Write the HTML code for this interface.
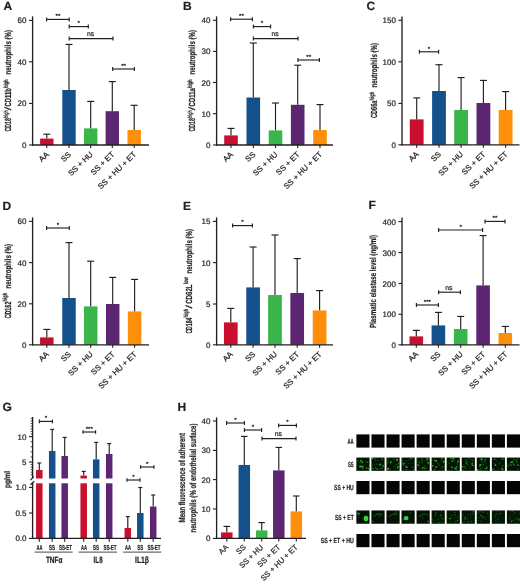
<!DOCTYPE html>
<html lang="en"><head><meta charset="utf-8"><title>Figure</title>
<style>
html,body{margin:0;padding:0;background:#fff;}
body{width:520px;height:585px;overflow:hidden;}
svg{display:block;}
svg text{font-family:"Liberation Sans",sans-serif;text-rendering:geometricPrecision;stroke:#231F20;stroke-width:0.22px;}
</style></head><body>
<svg width="520" height="585" viewBox="0 0 520 585">
<rect width="520" height="585" fill="#ffffff"/>
<line x1="46.8" y1="134.2" x2="46.8" y2="138.6" stroke="#231F20" stroke-width="1.15" stroke-linecap="butt"/>
<line x1="43.3" y1="134.2" x2="50.3" y2="134.2" stroke="#231F20" stroke-width="1.15" stroke-linecap="butt"/>
<rect x="40.1" y="138.6" width="13.4" height="6.4" fill="#C8102E"/>
<line x1="69" y1="44.4" x2="69" y2="90" stroke="#231F20" stroke-width="1.15" stroke-linecap="butt"/>
<line x1="65.5" y1="44.4" x2="72.5" y2="44.4" stroke="#231F20" stroke-width="1.15" stroke-linecap="butt"/>
<rect x="62.3" y="90" width="13.4" height="55" fill="#14508A"/>
<line x1="90.7" y1="101.4" x2="90.7" y2="128.4" stroke="#231F20" stroke-width="1.15" stroke-linecap="butt"/>
<line x1="87.2" y1="101.4" x2="94.2" y2="101.4" stroke="#231F20" stroke-width="1.15" stroke-linecap="butt"/>
<rect x="84" y="128.4" width="13.4" height="16.6" fill="#3AB54A"/>
<line x1="112.3" y1="81.6" x2="112.3" y2="111.2" stroke="#231F20" stroke-width="1.15" stroke-linecap="butt"/>
<line x1="108.8" y1="81.6" x2="115.8" y2="81.6" stroke="#231F20" stroke-width="1.15" stroke-linecap="butt"/>
<rect x="105.6" y="111.2" width="13.4" height="33.8" fill="#5C2672"/>
<line x1="134.2" y1="105.3" x2="134.2" y2="130" stroke="#231F20" stroke-width="1.15" stroke-linecap="butt"/>
<line x1="130.7" y1="105.3" x2="137.7" y2="105.3" stroke="#231F20" stroke-width="1.15" stroke-linecap="butt"/>
<rect x="127.5" y="130" width="13.4" height="15" fill="#FF8F0A"/>
<line x1="32.6" y1="16.4" x2="32.6" y2="145.6" stroke="#231F20" stroke-width="1.35" stroke-linecap="butt"/>
<line x1="32" y1="145" x2="149" y2="145" stroke="#231F20" stroke-width="1.35" stroke-linecap="butt"/>
<line x1="29" y1="145" x2="32.6" y2="145" stroke="#231F20" stroke-width="1.1" stroke-linecap="butt"/>
<text x="26.5" y="148" font-size="8" text-anchor="end" fill="#231F20" >0</text>
<line x1="29" y1="103.4" x2="32.6" y2="103.4" stroke="#231F20" stroke-width="1.1" stroke-linecap="butt"/>
<text x="26.5" y="106.4" font-size="8" text-anchor="end" fill="#231F20" >20</text>
<line x1="29" y1="61.8" x2="32.6" y2="61.8" stroke="#231F20" stroke-width="1.1" stroke-linecap="butt"/>
<text x="26.5" y="64.8" font-size="8" text-anchor="end" fill="#231F20" >40</text>
<line x1="29" y1="20.4" x2="32.6" y2="20.4" stroke="#231F20" stroke-width="1.1" stroke-linecap="butt"/>
<text x="26.5" y="23.4" font-size="8" text-anchor="end" fill="#231F20" >60</text>
<line x1="46.8" y1="145" x2="46.8" y2="148" stroke="#231F20" stroke-width="1.1" stroke-linecap="butt"/>
<text x="49.4" y="155" font-size="7.85" text-anchor="end" transform="rotate(-44 49.4 155)" fill="#231F20" >AA</text>
<line x1="69" y1="145" x2="69" y2="148" stroke="#231F20" stroke-width="1.1" stroke-linecap="butt"/>
<text x="71.6" y="155" font-size="7.85" text-anchor="end" transform="rotate(-44 71.6 155)" fill="#231F20" >SS</text>
<line x1="90.7" y1="145" x2="90.7" y2="148" stroke="#231F20" stroke-width="1.1" stroke-linecap="butt"/>
<text x="93.3" y="155" font-size="7.85" text-anchor="end" transform="rotate(-44 93.3 155)" fill="#231F20" >SS + HU</text>
<line x1="112.3" y1="145" x2="112.3" y2="148" stroke="#231F20" stroke-width="1.1" stroke-linecap="butt"/>
<text x="114.9" y="155" font-size="7.85" text-anchor="end" transform="rotate(-44 114.9 155)" fill="#231F20" >SS + ET</text>
<line x1="134.2" y1="145" x2="134.2" y2="148" stroke="#231F20" stroke-width="1.1" stroke-linecap="butt"/>
<text x="136.8" y="155" font-size="7.85" text-anchor="end" transform="rotate(-44 136.8 155)" fill="#231F20" >SS + HU + ET</text>
<line x1="46.6" y1="19.4" x2="69.2" y2="19.4" stroke="#231F20" stroke-width="1.15" stroke-linecap="butt"/>
<line x1="46.6" y1="17.4" x2="46.6" y2="21.4" stroke="#231F20" stroke-width="1.15" stroke-linecap="butt"/>
<line x1="69.2" y1="17.4" x2="69.2" y2="21.4" stroke="#231F20" stroke-width="1.15" stroke-linecap="butt"/>
<text x="57.9" y="18.2" font-size="6.2" text-anchor="middle" fill="#231F20" >**</text>
<line x1="69.2" y1="26.6" x2="88.3" y2="26.6" stroke="#231F20" stroke-width="1.15" stroke-linecap="butt"/>
<line x1="69.2" y1="24.6" x2="69.2" y2="28.6" stroke="#231F20" stroke-width="1.15" stroke-linecap="butt"/>
<line x1="88.3" y1="24.6" x2="88.3" y2="28.6" stroke="#231F20" stroke-width="1.15" stroke-linecap="butt"/>
<text x="78.75" y="25.4" font-size="6.2" text-anchor="middle" fill="#231F20" >*</text>
<line x1="69.2" y1="38.6" x2="113" y2="38.6" stroke="#231F20" stroke-width="1.15" stroke-linecap="butt"/>
<line x1="69.2" y1="36.6" x2="69.2" y2="40.6" stroke="#231F20" stroke-width="1.15" stroke-linecap="butt"/>
<line x1="113" y1="36.6" x2="113" y2="40.6" stroke="#231F20" stroke-width="1.15" stroke-linecap="butt"/>
<text x="90.5" y="36.2" font-size="6.8" text-anchor="middle" fill="#231F20" >ns</text>
<line x1="112.7" y1="69" x2="134.4" y2="69" stroke="#231F20" stroke-width="1.15" stroke-linecap="butt"/>
<line x1="112.7" y1="67" x2="112.7" y2="71" stroke="#231F20" stroke-width="1.15" stroke-linecap="butt"/>
<line x1="134.4" y1="67" x2="134.4" y2="71" stroke="#231F20" stroke-width="1.15" stroke-linecap="butt"/>
<text x="123.55" y="67.8" font-size="6.2" text-anchor="middle" fill="#231F20" >**</text>
<text x="3.5" y="10" font-size="12" text-anchor="start" font-weight="bold" fill="#231F20" stroke-width="0.45">A</text>
<text x="11" y="131.6" font-size="8.8" transform="rotate(-90 11 131.6)" textLength="13.4" lengthAdjust="spacingAndGlyphs" fill="#231F20" font-weight="bold" stroke="none">CD18</text>
<text x="7.5" y="118" font-size="6.34" transform="rotate(-90 7.5 118)" textLength="7.8" lengthAdjust="spacingAndGlyphs" fill="#231F20" font-weight="bold" stroke="none">high</text>
<text x="11" y="110.2" font-size="8.8" transform="rotate(-90 11 110.2)" textLength="3.4" lengthAdjust="spacingAndGlyphs" fill="#231F20" font-weight="normal" stroke="none">/</text>
<text x="11" y="106.4" font-size="8.8" transform="rotate(-90 11 106.4)" textLength="18.2" lengthAdjust="spacingAndGlyphs" fill="#231F20" font-weight="bold" stroke="none">CD11b</text>
<text x="7.5" y="88" font-size="6.34" transform="rotate(-90 7.5 88)" textLength="8.4" lengthAdjust="spacingAndGlyphs" fill="#231F20" font-weight="bold" stroke="none">high</text>
<text x="11" y="74.5" font-size="8.8" transform="rotate(-90 11 74.5)" textLength="44.5" lengthAdjust="spacingAndGlyphs" fill="#231F20" font-weight="bold" stroke="none">neutrophils (%)</text>
<line x1="231" y1="128.4" x2="231" y2="135.4" stroke="#231F20" stroke-width="1.15" stroke-linecap="butt"/>
<line x1="227.5" y1="128.4" x2="234.5" y2="128.4" stroke="#231F20" stroke-width="1.15" stroke-linecap="butt"/>
<rect x="224.2" y="135.4" width="13.6" height="9.6" fill="#C8102E"/>
<line x1="253.3" y1="43" x2="253.3" y2="97.5" stroke="#231F20" stroke-width="1.15" stroke-linecap="butt"/>
<line x1="249.8" y1="43" x2="256.8" y2="43" stroke="#231F20" stroke-width="1.15" stroke-linecap="butt"/>
<rect x="246.5" y="97.5" width="13.6" height="47.5" fill="#14508A"/>
<line x1="275.5" y1="103" x2="275.5" y2="130.4" stroke="#231F20" stroke-width="1.15" stroke-linecap="butt"/>
<line x1="272" y1="103" x2="279" y2="103" stroke="#231F20" stroke-width="1.15" stroke-linecap="butt"/>
<rect x="268.7" y="130.4" width="13.6" height="14.6" fill="#3AB54A"/>
<line x1="297.7" y1="65.2" x2="297.7" y2="104.8" stroke="#231F20" stroke-width="1.15" stroke-linecap="butt"/>
<line x1="294.2" y1="65.2" x2="301.2" y2="65.2" stroke="#231F20" stroke-width="1.15" stroke-linecap="butt"/>
<rect x="290.9" y="104.8" width="13.6" height="40.2" fill="#5C2672"/>
<line x1="320" y1="104.6" x2="320" y2="130" stroke="#231F20" stroke-width="1.15" stroke-linecap="butt"/>
<line x1="316.5" y1="104.6" x2="323.5" y2="104.6" stroke="#231F20" stroke-width="1.15" stroke-linecap="butt"/>
<rect x="313.2" y="130" width="13.6" height="15" fill="#FF8F0A"/>
<line x1="216.6" y1="16.4" x2="216.6" y2="145.6" stroke="#231F20" stroke-width="1.35" stroke-linecap="butt"/>
<line x1="216" y1="145" x2="333" y2="145" stroke="#231F20" stroke-width="1.35" stroke-linecap="butt"/>
<line x1="213" y1="145" x2="216.6" y2="145" stroke="#231F20" stroke-width="1.1" stroke-linecap="butt"/>
<text x="210.5" y="148" font-size="8" text-anchor="end" fill="#231F20" >0</text>
<line x1="213" y1="113.7" x2="216.6" y2="113.7" stroke="#231F20" stroke-width="1.1" stroke-linecap="butt"/>
<text x="210.5" y="116.7" font-size="8" text-anchor="end" fill="#231F20" >10</text>
<line x1="213" y1="82.5" x2="216.6" y2="82.5" stroke="#231F20" stroke-width="1.1" stroke-linecap="butt"/>
<text x="210.5" y="85.5" font-size="8" text-anchor="end" fill="#231F20" >20</text>
<line x1="213" y1="51.4" x2="216.6" y2="51.4" stroke="#231F20" stroke-width="1.1" stroke-linecap="butt"/>
<text x="210.5" y="54.4" font-size="8" text-anchor="end" fill="#231F20" >30</text>
<line x1="213" y1="20.3" x2="216.6" y2="20.3" stroke="#231F20" stroke-width="1.1" stroke-linecap="butt"/>
<text x="210.5" y="23.3" font-size="8" text-anchor="end" fill="#231F20" >40</text>
<line x1="231" y1="145" x2="231" y2="148" stroke="#231F20" stroke-width="1.1" stroke-linecap="butt"/>
<text x="233.6" y="155" font-size="7.85" text-anchor="end" transform="rotate(-44 233.6 155)" fill="#231F20" >AA</text>
<line x1="253.3" y1="145" x2="253.3" y2="148" stroke="#231F20" stroke-width="1.1" stroke-linecap="butt"/>
<text x="255.9" y="155" font-size="7.85" text-anchor="end" transform="rotate(-44 255.9 155)" fill="#231F20" >SS</text>
<line x1="275.5" y1="145" x2="275.5" y2="148" stroke="#231F20" stroke-width="1.1" stroke-linecap="butt"/>
<text x="278.1" y="155" font-size="7.85" text-anchor="end" transform="rotate(-44 278.1 155)" fill="#231F20" >SS + HU</text>
<line x1="297.7" y1="145" x2="297.7" y2="148" stroke="#231F20" stroke-width="1.1" stroke-linecap="butt"/>
<text x="300.3" y="155" font-size="7.85" text-anchor="end" transform="rotate(-44 300.3 155)" fill="#231F20" >SS + ET</text>
<line x1="320" y1="145" x2="320" y2="148" stroke="#231F20" stroke-width="1.1" stroke-linecap="butt"/>
<text x="322.6" y="155" font-size="7.85" text-anchor="end" transform="rotate(-44 322.6 155)" fill="#231F20" >SS + HU + ET</text>
<line x1="230.6" y1="19.2" x2="252.4" y2="19.2" stroke="#231F20" stroke-width="1.15" stroke-linecap="butt"/>
<line x1="230.6" y1="17.2" x2="230.6" y2="21.2" stroke="#231F20" stroke-width="1.15" stroke-linecap="butt"/>
<line x1="252.4" y1="17.2" x2="252.4" y2="21.2" stroke="#231F20" stroke-width="1.15" stroke-linecap="butt"/>
<text x="241.5" y="18" font-size="6.2" text-anchor="middle" fill="#231F20" >**</text>
<line x1="253.4" y1="26.6" x2="270.6" y2="26.6" stroke="#231F20" stroke-width="1.15" stroke-linecap="butt"/>
<line x1="253.4" y1="24.6" x2="253.4" y2="28.6" stroke="#231F20" stroke-width="1.15" stroke-linecap="butt"/>
<line x1="270.6" y1="24.6" x2="270.6" y2="28.6" stroke="#231F20" stroke-width="1.15" stroke-linecap="butt"/>
<text x="262" y="25.4" font-size="6.2" text-anchor="middle" fill="#231F20" >*</text>
<line x1="253.4" y1="38.6" x2="298" y2="38.6" stroke="#231F20" stroke-width="1.15" stroke-linecap="butt"/>
<line x1="253.4" y1="36.6" x2="253.4" y2="40.6" stroke="#231F20" stroke-width="1.15" stroke-linecap="butt"/>
<line x1="298" y1="36.6" x2="298" y2="40.6" stroke="#231F20" stroke-width="1.15" stroke-linecap="butt"/>
<text x="275.1" y="36.2" font-size="6.8" text-anchor="middle" fill="#231F20" >ns</text>
<line x1="298" y1="60" x2="319.4" y2="60" stroke="#231F20" stroke-width="1.15" stroke-linecap="butt"/>
<line x1="298" y1="58" x2="298" y2="62" stroke="#231F20" stroke-width="1.15" stroke-linecap="butt"/>
<line x1="319.4" y1="58" x2="319.4" y2="62" stroke="#231F20" stroke-width="1.15" stroke-linecap="butt"/>
<text x="308.7" y="58.8" font-size="6.2" text-anchor="middle" fill="#231F20" >**</text>
<text x="183.1" y="10" font-size="12" text-anchor="start" font-weight="bold" fill="#231F20" stroke-width="0.45">B</text>
<text x="195.3" y="131.6" font-size="8.8" transform="rotate(-90 195.3 131.6)" textLength="13.4" lengthAdjust="spacingAndGlyphs" fill="#231F20" font-weight="bold" stroke="none">CD18</text>
<text x="191.8" y="118" font-size="6.34" transform="rotate(-90 191.8 118)" textLength="7.8" lengthAdjust="spacingAndGlyphs" fill="#231F20" font-weight="bold" stroke="none">high</text>
<text x="195.3" y="110.2" font-size="8.8" transform="rotate(-90 195.3 110.2)" textLength="3.4" lengthAdjust="spacingAndGlyphs" fill="#231F20" font-weight="normal" stroke="none">/</text>
<text x="195.3" y="106.4" font-size="8.8" transform="rotate(-90 195.3 106.4)" textLength="18.2" lengthAdjust="spacingAndGlyphs" fill="#231F20" font-weight="bold" stroke="none">CD11a</text>
<text x="191.8" y="88" font-size="6.34" transform="rotate(-90 191.8 88)" textLength="8.4" lengthAdjust="spacingAndGlyphs" fill="#231F20" font-weight="bold" stroke="none">high</text>
<text x="195.3" y="74.5" font-size="8.8" transform="rotate(-90 195.3 74.5)" textLength="44.5" lengthAdjust="spacingAndGlyphs" fill="#231F20" font-weight="bold" stroke="none">neutrophils (%)</text>
<line x1="416.7" y1="97.9" x2="416.7" y2="119.4" stroke="#231F20" stroke-width="1.15" stroke-linecap="butt"/>
<line x1="413.2" y1="97.9" x2="420.2" y2="97.9" stroke="#231F20" stroke-width="1.15" stroke-linecap="butt"/>
<rect x="409.8" y="119.4" width="13.8" height="25.4" fill="#C8102E"/>
<line x1="439" y1="64.7" x2="439" y2="91" stroke="#231F20" stroke-width="1.15" stroke-linecap="butt"/>
<line x1="435.5" y1="64.7" x2="442.5" y2="64.7" stroke="#231F20" stroke-width="1.15" stroke-linecap="butt"/>
<rect x="432.1" y="91" width="13.8" height="53.8" fill="#14508A"/>
<line x1="461.1" y1="77.6" x2="461.1" y2="110" stroke="#231F20" stroke-width="1.15" stroke-linecap="butt"/>
<line x1="457.6" y1="77.6" x2="464.6" y2="77.6" stroke="#231F20" stroke-width="1.15" stroke-linecap="butt"/>
<rect x="454.2" y="110" width="13.8" height="34.8" fill="#3AB54A"/>
<line x1="483.4" y1="80.4" x2="483.4" y2="103" stroke="#231F20" stroke-width="1.15" stroke-linecap="butt"/>
<line x1="479.9" y1="80.4" x2="486.9" y2="80.4" stroke="#231F20" stroke-width="1.15" stroke-linecap="butt"/>
<rect x="476.5" y="103" width="13.8" height="41.8" fill="#5C2672"/>
<line x1="505.6" y1="91.6" x2="505.6" y2="110" stroke="#231F20" stroke-width="1.15" stroke-linecap="butt"/>
<line x1="502.1" y1="91.6" x2="509.1" y2="91.6" stroke="#231F20" stroke-width="1.15" stroke-linecap="butt"/>
<rect x="498.7" y="110" width="13.8" height="34.8" fill="#FF8F0A"/>
<line x1="402" y1="16.4" x2="402" y2="145.4" stroke="#231F20" stroke-width="1.35" stroke-linecap="butt"/>
<line x1="401.4" y1="144.8" x2="519.5" y2="144.8" stroke="#231F20" stroke-width="1.35" stroke-linecap="butt"/>
<line x1="398.4" y1="144.8" x2="402" y2="144.8" stroke="#231F20" stroke-width="1.1" stroke-linecap="butt"/>
<text x="395.9" y="147.8" font-size="8" text-anchor="end" fill="#231F20" >0</text>
<line x1="398.4" y1="103.4" x2="402" y2="103.4" stroke="#231F20" stroke-width="1.1" stroke-linecap="butt"/>
<text x="395.9" y="106.4" font-size="8" text-anchor="end" fill="#231F20" >50</text>
<line x1="398.4" y1="61.8" x2="402" y2="61.8" stroke="#231F20" stroke-width="1.1" stroke-linecap="butt"/>
<text x="395.9" y="64.8" font-size="8" text-anchor="end" fill="#231F20" >100</text>
<line x1="398.4" y1="20.3" x2="402" y2="20.3" stroke="#231F20" stroke-width="1.1" stroke-linecap="butt"/>
<text x="395.9" y="23.3" font-size="8" text-anchor="end" fill="#231F20" >150</text>
<line x1="416.7" y1="144.8" x2="416.7" y2="147.8" stroke="#231F20" stroke-width="1.1" stroke-linecap="butt"/>
<text x="419.3" y="154.8" font-size="7.85" text-anchor="end" transform="rotate(-44 419.3 154.8)" fill="#231F20" >AA</text>
<line x1="439" y1="144.8" x2="439" y2="147.8" stroke="#231F20" stroke-width="1.1" stroke-linecap="butt"/>
<text x="441.6" y="154.8" font-size="7.85" text-anchor="end" transform="rotate(-44 441.6 154.8)" fill="#231F20" >SS</text>
<line x1="461.1" y1="144.8" x2="461.1" y2="147.8" stroke="#231F20" stroke-width="1.1" stroke-linecap="butt"/>
<text x="463.7" y="154.8" font-size="7.85" text-anchor="end" transform="rotate(-44 463.7 154.8)" fill="#231F20" >SS + HU</text>
<line x1="483.4" y1="144.8" x2="483.4" y2="147.8" stroke="#231F20" stroke-width="1.1" stroke-linecap="butt"/>
<text x="486" y="154.8" font-size="7.85" text-anchor="end" transform="rotate(-44 486 154.8)" fill="#231F20" >SS + ET</text>
<line x1="505.6" y1="144.8" x2="505.6" y2="147.8" stroke="#231F20" stroke-width="1.1" stroke-linecap="butt"/>
<text x="508.2" y="154.8" font-size="7.85" text-anchor="end" transform="rotate(-44 508.2 154.8)" fill="#231F20" >SS + HU + ET</text>
<line x1="419.4" y1="51.8" x2="438.6" y2="51.8" stroke="#231F20" stroke-width="1.15" stroke-linecap="butt"/>
<line x1="419.4" y1="49.8" x2="419.4" y2="53.8" stroke="#231F20" stroke-width="1.15" stroke-linecap="butt"/>
<line x1="438.6" y1="49.8" x2="438.6" y2="53.8" stroke="#231F20" stroke-width="1.15" stroke-linecap="butt"/>
<text x="429" y="50.6" font-size="6.2" text-anchor="middle" fill="#231F20" >*</text>
<text x="366.5" y="10" font-size="12" text-anchor="start" font-weight="bold" fill="#231F20" stroke-width="0.45">C</text>
<text x="377.2" y="118" font-size="8.8" transform="rotate(-90 377.2 118)" textLength="17.4" lengthAdjust="spacingAndGlyphs" fill="#231F20" font-weight="bold" stroke="none">CD66a</text>
<text x="373.7" y="100.4" font-size="6.34" transform="rotate(-90 373.7 100.4)" textLength="8.6" lengthAdjust="spacingAndGlyphs" fill="#231F20" font-weight="bold" stroke="none">high</text>
<text x="377.2" y="87.5" font-size="8.8" transform="rotate(-90 377.2 87.5)" textLength="44.5" lengthAdjust="spacingAndGlyphs" fill="#231F20" font-weight="bold" stroke="none">neutrophils (%)</text>
<line x1="46.8" y1="329.4" x2="46.8" y2="337.4" stroke="#231F20" stroke-width="1.15" stroke-linecap="butt"/>
<line x1="43.3" y1="329.4" x2="50.3" y2="329.4" stroke="#231F20" stroke-width="1.15" stroke-linecap="butt"/>
<rect x="40.05" y="337.4" width="13.5" height="7.4" fill="#C8102E"/>
<line x1="69" y1="242.6" x2="69" y2="298" stroke="#231F20" stroke-width="1.15" stroke-linecap="butt"/>
<line x1="65.5" y1="242.6" x2="72.5" y2="242.6" stroke="#231F20" stroke-width="1.15" stroke-linecap="butt"/>
<rect x="62.25" y="298" width="13.5" height="46.8" fill="#14508A"/>
<line x1="90.7" y1="261.2" x2="90.7" y2="306.4" stroke="#231F20" stroke-width="1.15" stroke-linecap="butt"/>
<line x1="87.2" y1="261.2" x2="94.2" y2="261.2" stroke="#231F20" stroke-width="1.15" stroke-linecap="butt"/>
<rect x="83.95" y="306.4" width="13.5" height="38.4" fill="#3AB54A"/>
<line x1="112.7" y1="277.4" x2="112.7" y2="304" stroke="#231F20" stroke-width="1.15" stroke-linecap="butt"/>
<line x1="109.2" y1="277.4" x2="116.2" y2="277.4" stroke="#231F20" stroke-width="1.15" stroke-linecap="butt"/>
<rect x="105.95" y="304" width="13.5" height="40.8" fill="#5C2672"/>
<line x1="134.6" y1="279.4" x2="134.6" y2="311.4" stroke="#231F20" stroke-width="1.15" stroke-linecap="butt"/>
<line x1="131.1" y1="279.4" x2="138.1" y2="279.4" stroke="#231F20" stroke-width="1.15" stroke-linecap="butt"/>
<rect x="127.85" y="311.4" width="13.5" height="33.4" fill="#FF8F0A"/>
<line x1="32.6" y1="217.4" x2="32.6" y2="345.4" stroke="#231F20" stroke-width="1.35" stroke-linecap="butt"/>
<line x1="32" y1="344.8" x2="149" y2="344.8" stroke="#231F20" stroke-width="1.35" stroke-linecap="butt"/>
<line x1="29" y1="344.8" x2="32.6" y2="344.8" stroke="#231F20" stroke-width="1.1" stroke-linecap="butt"/>
<text x="26.5" y="347.8" font-size="8" text-anchor="end" fill="#231F20" >0</text>
<line x1="29" y1="303.8" x2="32.6" y2="303.8" stroke="#231F20" stroke-width="1.1" stroke-linecap="butt"/>
<text x="26.5" y="306.8" font-size="8" text-anchor="end" fill="#231F20" >20</text>
<line x1="29" y1="262.6" x2="32.6" y2="262.6" stroke="#231F20" stroke-width="1.1" stroke-linecap="butt"/>
<text x="26.5" y="265.6" font-size="8" text-anchor="end" fill="#231F20" >40</text>
<line x1="29" y1="221.4" x2="32.6" y2="221.4" stroke="#231F20" stroke-width="1.1" stroke-linecap="butt"/>
<text x="26.5" y="224.4" font-size="8" text-anchor="end" fill="#231F20" >60</text>
<line x1="46.8" y1="344.8" x2="46.8" y2="347.8" stroke="#231F20" stroke-width="1.1" stroke-linecap="butt"/>
<text x="49.4" y="354.8" font-size="7.85" text-anchor="end" transform="rotate(-44 49.4 354.8)" fill="#231F20" >AA</text>
<line x1="69" y1="344.8" x2="69" y2="347.8" stroke="#231F20" stroke-width="1.1" stroke-linecap="butt"/>
<text x="71.6" y="354.8" font-size="7.85" text-anchor="end" transform="rotate(-44 71.6 354.8)" fill="#231F20" >SS</text>
<line x1="90.7" y1="344.8" x2="90.7" y2="347.8" stroke="#231F20" stroke-width="1.1" stroke-linecap="butt"/>
<text x="93.3" y="354.8" font-size="7.85" text-anchor="end" transform="rotate(-44 93.3 354.8)" fill="#231F20" >SS + HU</text>
<line x1="112.7" y1="344.8" x2="112.7" y2="347.8" stroke="#231F20" stroke-width="1.1" stroke-linecap="butt"/>
<text x="115.3" y="354.8" font-size="7.85" text-anchor="end" transform="rotate(-44 115.3 354.8)" fill="#231F20" >SS + ET</text>
<line x1="134.6" y1="344.8" x2="134.6" y2="347.8" stroke="#231F20" stroke-width="1.1" stroke-linecap="butt"/>
<text x="137.2" y="354.8" font-size="7.85" text-anchor="end" transform="rotate(-44 137.2 354.8)" fill="#231F20" >SS + HU + ET</text>
<line x1="46.6" y1="228" x2="69.3" y2="228" stroke="#231F20" stroke-width="1.15" stroke-linecap="butt"/>
<line x1="46.6" y1="226" x2="46.6" y2="230" stroke="#231F20" stroke-width="1.15" stroke-linecap="butt"/>
<line x1="69.3" y1="226" x2="69.3" y2="230" stroke="#231F20" stroke-width="1.15" stroke-linecap="butt"/>
<text x="57.95" y="226.8" font-size="6.2" text-anchor="middle" fill="#231F20" >*</text>
<text x="2.5" y="210.4" font-size="12" text-anchor="start" font-weight="bold" fill="#231F20" stroke-width="0.45">D</text>
<text x="11" y="318.5" font-size="8.8" transform="rotate(-90 11 318.5)" textLength="16.9" lengthAdjust="spacingAndGlyphs" fill="#231F20" font-weight="bold" stroke="none">CD162</text>
<text x="7.5" y="301.4" font-size="6.34" transform="rotate(-90 7.5 301.4)" textLength="8.6" lengthAdjust="spacingAndGlyphs" fill="#231F20" font-weight="bold" stroke="none">high</text>
<text x="11" y="288.5" font-size="8.8" transform="rotate(-90 11 288.5)" textLength="44.5" lengthAdjust="spacingAndGlyphs" fill="#231F20" font-weight="bold" stroke="none">neutrophils (%)</text>
<line x1="230.8" y1="308.4" x2="230.8" y2="322.4" stroke="#231F20" stroke-width="1.15" stroke-linecap="butt"/>
<line x1="227.3" y1="308.4" x2="234.3" y2="308.4" stroke="#231F20" stroke-width="1.15" stroke-linecap="butt"/>
<rect x="223.95" y="322.4" width="13.7" height="22.4" fill="#C8102E"/>
<line x1="253.1" y1="247" x2="253.1" y2="287.4" stroke="#231F20" stroke-width="1.15" stroke-linecap="butt"/>
<line x1="249.6" y1="247" x2="256.6" y2="247" stroke="#231F20" stroke-width="1.15" stroke-linecap="butt"/>
<rect x="246.25" y="287.4" width="13.7" height="57.4" fill="#14508A"/>
<line x1="275" y1="235" x2="275" y2="295" stroke="#231F20" stroke-width="1.15" stroke-linecap="butt"/>
<line x1="271.5" y1="235" x2="278.5" y2="235" stroke="#231F20" stroke-width="1.15" stroke-linecap="butt"/>
<rect x="268.15" y="295" width="13.7" height="49.8" fill="#3AB54A"/>
<line x1="297.2" y1="258.6" x2="297.2" y2="293" stroke="#231F20" stroke-width="1.15" stroke-linecap="butt"/>
<line x1="293.7" y1="258.6" x2="300.7" y2="258.6" stroke="#231F20" stroke-width="1.15" stroke-linecap="butt"/>
<rect x="290.35" y="293" width="13.7" height="51.8" fill="#5C2672"/>
<line x1="319.6" y1="290.6" x2="319.6" y2="310.4" stroke="#231F20" stroke-width="1.15" stroke-linecap="butt"/>
<line x1="316.1" y1="290.6" x2="323.1" y2="290.6" stroke="#231F20" stroke-width="1.15" stroke-linecap="butt"/>
<rect x="312.75" y="310.4" width="13.7" height="34.4" fill="#FF8F0A"/>
<line x1="216.6" y1="217.4" x2="216.6" y2="345.4" stroke="#231F20" stroke-width="1.35" stroke-linecap="butt"/>
<line x1="216" y1="344.8" x2="333" y2="344.8" stroke="#231F20" stroke-width="1.35" stroke-linecap="butt"/>
<line x1="213" y1="344.8" x2="216.6" y2="344.8" stroke="#231F20" stroke-width="1.1" stroke-linecap="butt"/>
<text x="210.5" y="347.8" font-size="8" text-anchor="end" fill="#231F20" >0</text>
<line x1="213" y1="304" x2="216.6" y2="304" stroke="#231F20" stroke-width="1.1" stroke-linecap="butt"/>
<text x="210.5" y="307" font-size="8" text-anchor="end" fill="#231F20" >5</text>
<line x1="213" y1="262.6" x2="216.6" y2="262.6" stroke="#231F20" stroke-width="1.1" stroke-linecap="butt"/>
<text x="210.5" y="265.6" font-size="8" text-anchor="end" fill="#231F20" >10</text>
<line x1="213" y1="221.4" x2="216.6" y2="221.4" stroke="#231F20" stroke-width="1.1" stroke-linecap="butt"/>
<text x="210.5" y="224.4" font-size="8" text-anchor="end" fill="#231F20" >15</text>
<line x1="230.8" y1="344.8" x2="230.8" y2="347.8" stroke="#231F20" stroke-width="1.1" stroke-linecap="butt"/>
<text x="233.4" y="354.8" font-size="7.85" text-anchor="end" transform="rotate(-44 233.4 354.8)" fill="#231F20" >AA</text>
<line x1="253.1" y1="344.8" x2="253.1" y2="347.8" stroke="#231F20" stroke-width="1.1" stroke-linecap="butt"/>
<text x="255.7" y="354.8" font-size="7.85" text-anchor="end" transform="rotate(-44 255.7 354.8)" fill="#231F20" >SS</text>
<line x1="275" y1="344.8" x2="275" y2="347.8" stroke="#231F20" stroke-width="1.1" stroke-linecap="butt"/>
<text x="277.6" y="354.8" font-size="7.85" text-anchor="end" transform="rotate(-44 277.6 354.8)" fill="#231F20" >SS + HU</text>
<line x1="297.2" y1="344.8" x2="297.2" y2="347.8" stroke="#231F20" stroke-width="1.1" stroke-linecap="butt"/>
<text x="299.8" y="354.8" font-size="7.85" text-anchor="end" transform="rotate(-44 299.8 354.8)" fill="#231F20" >SS + ET</text>
<line x1="319.6" y1="344.8" x2="319.6" y2="347.8" stroke="#231F20" stroke-width="1.1" stroke-linecap="butt"/>
<text x="322.2" y="354.8" font-size="7.85" text-anchor="end" transform="rotate(-44 322.2 354.8)" fill="#231F20" >SS + HU + ET</text>
<line x1="232.6" y1="225.6" x2="252.4" y2="225.6" stroke="#231F20" stroke-width="1.15" stroke-linecap="butt"/>
<line x1="232.6" y1="223.6" x2="232.6" y2="227.6" stroke="#231F20" stroke-width="1.15" stroke-linecap="butt"/>
<line x1="252.4" y1="223.6" x2="252.4" y2="227.6" stroke="#231F20" stroke-width="1.15" stroke-linecap="butt"/>
<text x="242.5" y="224.4" font-size="6.2" text-anchor="middle" fill="#231F20" >*</text>
<text x="183.1" y="210.2" font-size="12" text-anchor="start" font-weight="bold" fill="#231F20" stroke-width="0.45">E</text>
<text x="192" y="333.6" font-size="8.8" transform="rotate(-90 192 333.6)" textLength="16" lengthAdjust="spacingAndGlyphs" fill="#231F20" font-weight="bold" stroke="none">CD184</text>
<text x="188.5" y="317.4" font-size="6.34" transform="rotate(-90 188.5 317.4)" textLength="8.6" lengthAdjust="spacingAndGlyphs" fill="#231F20" font-weight="bold" stroke="none">high</text>
<text x="192" y="308.6" font-size="8.8" transform="rotate(-90 192 308.6)" textLength="3.6" lengthAdjust="spacingAndGlyphs" fill="#231F20" font-weight="normal" stroke="none">/</text>
<text x="192" y="303.8" font-size="8.8" transform="rotate(-90 192 303.8)" textLength="19.4" lengthAdjust="spacingAndGlyphs" fill="#231F20" font-weight="bold" stroke="none">CD62L</text>
<text x="188.5" y="284.2" font-size="6.34" transform="rotate(-90 188.5 284.2)" textLength="7" lengthAdjust="spacingAndGlyphs" fill="#231F20" font-weight="bold" stroke="none">low</text>
<text x="192" y="273.5" font-size="8.8" transform="rotate(-90 192 273.5)" textLength="44.5" lengthAdjust="spacingAndGlyphs" fill="#231F20" font-weight="bold" stroke="none">neutrophils (%)</text>
<line x1="416.3" y1="330.4" x2="416.3" y2="336.4" stroke="#231F20" stroke-width="1.15" stroke-linecap="butt"/>
<line x1="412.8" y1="330.4" x2="419.8" y2="330.4" stroke="#231F20" stroke-width="1.15" stroke-linecap="butt"/>
<rect x="409.5" y="336.4" width="13.6" height="8.4" fill="#C8102E"/>
<line x1="438.4" y1="312.4" x2="438.4" y2="325.4" stroke="#231F20" stroke-width="1.15" stroke-linecap="butt"/>
<line x1="434.9" y1="312.4" x2="441.9" y2="312.4" stroke="#231F20" stroke-width="1.15" stroke-linecap="butt"/>
<rect x="431.6" y="325.4" width="13.6" height="19.4" fill="#14508A"/>
<line x1="460.7" y1="316.4" x2="460.7" y2="329" stroke="#231F20" stroke-width="1.15" stroke-linecap="butt"/>
<line x1="457.2" y1="316.4" x2="464.2" y2="316.4" stroke="#231F20" stroke-width="1.15" stroke-linecap="butt"/>
<rect x="453.9" y="329" width="13.6" height="15.8" fill="#3AB54A"/>
<line x1="483.1" y1="235.6" x2="483.1" y2="285.4" stroke="#231F20" stroke-width="1.15" stroke-linecap="butt"/>
<line x1="479.6" y1="235.6" x2="486.6" y2="235.6" stroke="#231F20" stroke-width="1.15" stroke-linecap="butt"/>
<rect x="476.3" y="285.4" width="13.6" height="59.4" fill="#5C2672"/>
<line x1="505.3" y1="326.4" x2="505.3" y2="333" stroke="#231F20" stroke-width="1.15" stroke-linecap="butt"/>
<line x1="501.8" y1="326.4" x2="508.8" y2="326.4" stroke="#231F20" stroke-width="1.15" stroke-linecap="butt"/>
<rect x="498.5" y="333" width="13.6" height="11.8" fill="#FF8F0A"/>
<line x1="402" y1="217.4" x2="402" y2="345.4" stroke="#231F20" stroke-width="1.35" stroke-linecap="butt"/>
<line x1="401.4" y1="344.8" x2="519.5" y2="344.8" stroke="#231F20" stroke-width="1.35" stroke-linecap="butt"/>
<line x1="398.4" y1="344.8" x2="402" y2="344.8" stroke="#231F20" stroke-width="1.1" stroke-linecap="butt"/>
<text x="395.9" y="347.8" font-size="8" text-anchor="end" fill="#231F20" >0</text>
<line x1="398.4" y1="314.3" x2="402" y2="314.3" stroke="#231F20" stroke-width="1.1" stroke-linecap="butt"/>
<text x="395.9" y="317.3" font-size="8" text-anchor="end" fill="#231F20" >100</text>
<line x1="398.4" y1="283.5" x2="402" y2="283.5" stroke="#231F20" stroke-width="1.1" stroke-linecap="butt"/>
<text x="395.9" y="286.5" font-size="8" text-anchor="end" fill="#231F20" >200</text>
<line x1="398.4" y1="252.6" x2="402" y2="252.6" stroke="#231F20" stroke-width="1.1" stroke-linecap="butt"/>
<text x="395.9" y="255.6" font-size="8" text-anchor="end" fill="#231F20" >300</text>
<line x1="398.4" y1="221.6" x2="402" y2="221.6" stroke="#231F20" stroke-width="1.1" stroke-linecap="butt"/>
<text x="395.9" y="224.6" font-size="8" text-anchor="end" fill="#231F20" >400</text>
<line x1="416.3" y1="344.8" x2="416.3" y2="347.8" stroke="#231F20" stroke-width="1.1" stroke-linecap="butt"/>
<text x="418.9" y="354.8" font-size="7.85" text-anchor="end" transform="rotate(-44 418.9 354.8)" fill="#231F20" >AA</text>
<line x1="438.4" y1="344.8" x2="438.4" y2="347.8" stroke="#231F20" stroke-width="1.1" stroke-linecap="butt"/>
<text x="441" y="354.8" font-size="7.85" text-anchor="end" transform="rotate(-44 441 354.8)" fill="#231F20" >SS</text>
<line x1="460.7" y1="344.8" x2="460.7" y2="347.8" stroke="#231F20" stroke-width="1.1" stroke-linecap="butt"/>
<text x="463.3" y="354.8" font-size="7.85" text-anchor="end" transform="rotate(-44 463.3 354.8)" fill="#231F20" >SS + HU</text>
<line x1="483.1" y1="344.8" x2="483.1" y2="347.8" stroke="#231F20" stroke-width="1.1" stroke-linecap="butt"/>
<text x="485.7" y="354.8" font-size="7.85" text-anchor="end" transform="rotate(-44 485.7 354.8)" fill="#231F20" >SS + ET</text>
<line x1="505.3" y1="344.8" x2="505.3" y2="347.8" stroke="#231F20" stroke-width="1.1" stroke-linecap="butt"/>
<text x="507.9" y="354.8" font-size="7.85" text-anchor="end" transform="rotate(-44 507.9 354.8)" fill="#231F20" >SS + HU + ET</text>
<line x1="416.4" y1="305" x2="438.4" y2="305" stroke="#231F20" stroke-width="1.15" stroke-linecap="butt"/>
<line x1="416.4" y1="303" x2="416.4" y2="307" stroke="#231F20" stroke-width="1.15" stroke-linecap="butt"/>
<line x1="438.4" y1="303" x2="438.4" y2="307" stroke="#231F20" stroke-width="1.15" stroke-linecap="butt"/>
<text x="427.4" y="303.8" font-size="6.2" text-anchor="middle" fill="#231F20" >***</text>
<line x1="438.6" y1="292.2" x2="460.4" y2="292.2" stroke="#231F20" stroke-width="1.15" stroke-linecap="butt"/>
<line x1="438.6" y1="290.2" x2="438.6" y2="294.2" stroke="#231F20" stroke-width="1.15" stroke-linecap="butt"/>
<line x1="460.4" y1="290.2" x2="460.4" y2="294.2" stroke="#231F20" stroke-width="1.15" stroke-linecap="butt"/>
<text x="448.9" y="289.8" font-size="6.8" text-anchor="middle" fill="#231F20" >ns</text>
<line x1="438.6" y1="230" x2="482.6" y2="230" stroke="#231F20" stroke-width="1.15" stroke-linecap="butt"/>
<line x1="438.6" y1="228" x2="438.6" y2="232" stroke="#231F20" stroke-width="1.15" stroke-linecap="butt"/>
<line x1="482.6" y1="228" x2="482.6" y2="232" stroke="#231F20" stroke-width="1.15" stroke-linecap="butt"/>
<text x="460.6" y="228.8" font-size="6.2" text-anchor="middle" fill="#231F20" >*</text>
<line x1="485" y1="221.4" x2="505" y2="221.4" stroke="#231F20" stroke-width="1.15" stroke-linecap="butt"/>
<line x1="485" y1="219.4" x2="485" y2="223.4" stroke="#231F20" stroke-width="1.15" stroke-linecap="butt"/>
<line x1="505" y1="219.4" x2="505" y2="223.4" stroke="#231F20" stroke-width="1.15" stroke-linecap="butt"/>
<text x="495" y="220.2" font-size="6.2" text-anchor="middle" fill="#231F20" >**</text>
<text x="368.5" y="209.4" font-size="12" text-anchor="start" font-weight="bold" fill="#231F20" stroke-width="0.45">F</text>
<text x="375.5" y="281.5" font-size="8.8" text-anchor="middle" transform="rotate(-90 375.5 281.5)" textLength="93" lengthAdjust="spacingAndGlyphs" fill="#231F20" font-weight="bold" stroke="none">Plasmatic elastase level (ng/ml)</text>
<line x1="226.8" y1="526.4" x2="226.8" y2="532.4" stroke="#231F20" stroke-width="1.15" stroke-linecap="butt"/>
<line x1="223.55" y1="526.4" x2="230.05" y2="526.4" stroke="#231F20" stroke-width="1.15" stroke-linecap="butt"/>
<rect x="221.05" y="532.4" width="11.5" height="6" fill="#C8102E"/>
<line x1="244.3" y1="436.4" x2="244.3" y2="465" stroke="#231F20" stroke-width="1.15" stroke-linecap="butt"/>
<line x1="241.05" y1="436.4" x2="247.55" y2="436.4" stroke="#231F20" stroke-width="1.15" stroke-linecap="butt"/>
<rect x="238.55" y="465" width="11.5" height="73.4" fill="#14508A"/>
<line x1="261.7" y1="522.6" x2="261.7" y2="530.4" stroke="#231F20" stroke-width="1.15" stroke-linecap="butt"/>
<line x1="258.45" y1="522.6" x2="264.95" y2="522.6" stroke="#231F20" stroke-width="1.15" stroke-linecap="butt"/>
<rect x="255.95" y="530.4" width="11.5" height="8" fill="#3AB54A"/>
<line x1="278.8" y1="447.4" x2="278.8" y2="470.4" stroke="#231F20" stroke-width="1.15" stroke-linecap="butt"/>
<line x1="275.55" y1="447.4" x2="282.05" y2="447.4" stroke="#231F20" stroke-width="1.15" stroke-linecap="butt"/>
<rect x="273.05" y="470.4" width="11.5" height="68" fill="#5C2672"/>
<line x1="296.3" y1="496" x2="296.3" y2="511.4" stroke="#231F20" stroke-width="1.15" stroke-linecap="butt"/>
<line x1="293.05" y1="496" x2="299.55" y2="496" stroke="#231F20" stroke-width="1.15" stroke-linecap="butt"/>
<rect x="290.55" y="511.4" width="11.5" height="27" fill="#FF8F0A"/>
<line x1="216.6" y1="417.4" x2="216.6" y2="539" stroke="#231F20" stroke-width="1.35" stroke-linecap="butt"/>
<line x1="216" y1="538.4" x2="306" y2="538.4" stroke="#231F20" stroke-width="1.35" stroke-linecap="butt"/>
<line x1="213" y1="538.4" x2="216.6" y2="538.4" stroke="#231F20" stroke-width="1.1" stroke-linecap="butt"/>
<text x="210.5" y="541.4" font-size="8" text-anchor="end" fill="#231F20" >0</text>
<line x1="213" y1="509" x2="216.6" y2="509" stroke="#231F20" stroke-width="1.1" stroke-linecap="butt"/>
<text x="210.5" y="512" font-size="8" text-anchor="end" fill="#231F20" >10</text>
<line x1="213" y1="479.6" x2="216.6" y2="479.6" stroke="#231F20" stroke-width="1.1" stroke-linecap="butt"/>
<text x="210.5" y="482.6" font-size="8" text-anchor="end" fill="#231F20" >20</text>
<line x1="213" y1="450.4" x2="216.6" y2="450.4" stroke="#231F20" stroke-width="1.1" stroke-linecap="butt"/>
<text x="210.5" y="453.4" font-size="8" text-anchor="end" fill="#231F20" >30</text>
<line x1="213" y1="421" x2="216.6" y2="421" stroke="#231F20" stroke-width="1.1" stroke-linecap="butt"/>
<text x="210.5" y="424" font-size="8" text-anchor="end" fill="#231F20" >40</text>
<line x1="226.8" y1="538.4" x2="226.8" y2="541.4" stroke="#231F20" stroke-width="1.1" stroke-linecap="butt"/>
<text x="228.8" y="547.8" font-size="7.6" text-anchor="end" transform="rotate(-44 228.8 547.8)" fill="#231F20" >AA</text>
<line x1="244.3" y1="538.4" x2="244.3" y2="541.4" stroke="#231F20" stroke-width="1.1" stroke-linecap="butt"/>
<text x="246.3" y="547.8" font-size="7.6" text-anchor="end" transform="rotate(-44 246.3 547.8)" fill="#231F20" >SS</text>
<line x1="261.7" y1="538.4" x2="261.7" y2="541.4" stroke="#231F20" stroke-width="1.1" stroke-linecap="butt"/>
<text x="263.7" y="547.8" font-size="7.6" text-anchor="end" transform="rotate(-44 263.7 547.8)" fill="#231F20" >SS + HU</text>
<line x1="278.8" y1="538.4" x2="278.8" y2="541.4" stroke="#231F20" stroke-width="1.1" stroke-linecap="butt"/>
<text x="280.8" y="547.8" font-size="7.6" text-anchor="end" transform="rotate(-44 280.8 547.8)" fill="#231F20" >SS + ET</text>
<line x1="296.3" y1="538.4" x2="296.3" y2="541.4" stroke="#231F20" stroke-width="1.1" stroke-linecap="butt"/>
<text x="298.3" y="547.8" font-size="7.6" text-anchor="end" transform="rotate(-44 298.3 547.8)" fill="#231F20" >SS + HU + ET</text>
<line x1="226.6" y1="423" x2="244.4" y2="423" stroke="#231F20" stroke-width="1.15" stroke-linecap="butt"/>
<line x1="226.6" y1="421" x2="226.6" y2="425" stroke="#231F20" stroke-width="1.15" stroke-linecap="butt"/>
<line x1="244.4" y1="421" x2="244.4" y2="425" stroke="#231F20" stroke-width="1.15" stroke-linecap="butt"/>
<text x="235.5" y="421.8" font-size="6.2" text-anchor="middle" fill="#231F20" >*</text>
<line x1="244.4" y1="430" x2="261.6" y2="430" stroke="#231F20" stroke-width="1.15" stroke-linecap="butt"/>
<line x1="244.4" y1="428" x2="244.4" y2="432" stroke="#231F20" stroke-width="1.15" stroke-linecap="butt"/>
<line x1="261.6" y1="428" x2="261.6" y2="432" stroke="#231F20" stroke-width="1.15" stroke-linecap="butt"/>
<text x="253" y="428.8" font-size="6.2" text-anchor="middle" fill="#231F20" >*</text>
<line x1="262" y1="438.6" x2="296" y2="438.6" stroke="#231F20" stroke-width="1.15" stroke-linecap="butt"/>
<line x1="262" y1="436.6" x2="262" y2="440.6" stroke="#231F20" stroke-width="1.15" stroke-linecap="butt"/>
<line x1="296" y1="436.6" x2="296" y2="440.6" stroke="#231F20" stroke-width="1.15" stroke-linecap="butt"/>
<text x="278.4" y="436.2" font-size="6.8" text-anchor="middle" fill="#231F20" >ns</text>
<line x1="278.6" y1="425.4" x2="296.4" y2="425.4" stroke="#231F20" stroke-width="1.15" stroke-linecap="butt"/>
<line x1="278.6" y1="423.4" x2="278.6" y2="427.4" stroke="#231F20" stroke-width="1.15" stroke-linecap="butt"/>
<line x1="296.4" y1="423.4" x2="296.4" y2="427.4" stroke="#231F20" stroke-width="1.15" stroke-linecap="butt"/>
<text x="287.5" y="424.2" font-size="6.2" text-anchor="middle" fill="#231F20" >*</text>
<text x="177.5" y="410.8" font-size="12" text-anchor="start" font-weight="bold" fill="#231F20" stroke-width="0.45">H</text>
<text x="185" y="477.7" font-size="8.8" text-anchor="middle" transform="rotate(-90 185 477.7)" textLength="89.4" lengthAdjust="spacingAndGlyphs" fill="#231F20" font-weight="bold" stroke="none">Mean fluorescence of adherent</text>
<text x="196" y="478" font-size="8.8" text-anchor="middle" transform="rotate(-90 196 478)" textLength="109" lengthAdjust="spacingAndGlyphs" fill="#231F20" font-weight="bold" stroke="none">neutrophils (% of endothelial surface)</text>
<line x1="39.3" y1="463" x2="39.3" y2="470" stroke="#231F20" stroke-width="1.15" stroke-linecap="butt"/>
<line x1="37.3" y1="463" x2="41.3" y2="463" stroke="#231F20" stroke-width="1.15" stroke-linecap="butt"/>
<rect x="36.05" y="470" width="6.5" height="8.5" fill="#C8102E"/>
<rect x="36.05" y="483.3" width="6.5" height="55.1" fill="#C8102E"/>
<line x1="52.2" y1="429.4" x2="52.2" y2="451" stroke="#231F20" stroke-width="1.15" stroke-linecap="butt"/>
<line x1="50.2" y1="429.4" x2="54.2" y2="429.4" stroke="#231F20" stroke-width="1.15" stroke-linecap="butt"/>
<rect x="48.95" y="451" width="6.5" height="27.5" fill="#14508A"/>
<rect x="48.95" y="483.3" width="6.5" height="55.1" fill="#14508A"/>
<line x1="64.7" y1="437.4" x2="64.7" y2="456" stroke="#231F20" stroke-width="1.15" stroke-linecap="butt"/>
<line x1="62.7" y1="437.4" x2="66.7" y2="437.4" stroke="#231F20" stroke-width="1.15" stroke-linecap="butt"/>
<rect x="61.45" y="456" width="6.5" height="22.5" fill="#5C2672"/>
<rect x="61.45" y="483.3" width="6.5" height="55.1" fill="#5C2672"/>
<line x1="83.7" y1="471.4" x2="83.7" y2="475.6" stroke="#231F20" stroke-width="1.15" stroke-linecap="butt"/>
<line x1="81.7" y1="471.4" x2="85.7" y2="471.4" stroke="#231F20" stroke-width="1.15" stroke-linecap="butt"/>
<rect x="80.45" y="475.6" width="6.5" height="2.9" fill="#C8102E"/>
<rect x="80.45" y="483.3" width="6.5" height="55.1" fill="#C8102E"/>
<line x1="96.2" y1="442.4" x2="96.2" y2="459.4" stroke="#231F20" stroke-width="1.15" stroke-linecap="butt"/>
<line x1="94.2" y1="442.4" x2="98.2" y2="442.4" stroke="#231F20" stroke-width="1.15" stroke-linecap="butt"/>
<rect x="92.95" y="459.4" width="6.5" height="19.1" fill="#14508A"/>
<rect x="92.95" y="483.3" width="6.5" height="55.1" fill="#14508A"/>
<line x1="109.2" y1="443.6" x2="109.2" y2="454" stroke="#231F20" stroke-width="1.15" stroke-linecap="butt"/>
<line x1="107.2" y1="443.6" x2="111.2" y2="443.6" stroke="#231F20" stroke-width="1.15" stroke-linecap="butt"/>
<rect x="105.95" y="454" width="6.5" height="24.5" fill="#5C2672"/>
<rect x="105.95" y="483.3" width="6.5" height="55.1" fill="#5C2672"/>
<line x1="127.8" y1="516.6" x2="127.8" y2="528" stroke="#231F20" stroke-width="1.15" stroke-linecap="butt"/>
<line x1="125.8" y1="516.6" x2="129.8" y2="516.6" stroke="#231F20" stroke-width="1.15" stroke-linecap="butt"/>
<rect x="124.55" y="528" width="6.5" height="10.4" fill="#C8102E"/>
<line x1="140.3" y1="487.5" x2="140.3" y2="513" stroke="#231F20" stroke-width="1.15" stroke-linecap="butt"/>
<line x1="138.3" y1="487.5" x2="142.3" y2="487.5" stroke="#231F20" stroke-width="1.15" stroke-linecap="butt"/>
<rect x="137.05" y="513" width="6.5" height="25.4" fill="#14508A"/>
<line x1="153.2" y1="495" x2="153.2" y2="506.5" stroke="#231F20" stroke-width="1.15" stroke-linecap="butt"/>
<line x1="151.2" y1="495" x2="155.2" y2="495" stroke="#231F20" stroke-width="1.15" stroke-linecap="butt"/>
<rect x="149.95" y="506.5" width="6.5" height="31.9" fill="#5C2672"/>
<line x1="32.6" y1="417" x2="32.6" y2="478" stroke="#231F20" stroke-width="1.35" stroke-linecap="butt"/>
<line x1="32.6" y1="482.6" x2="32.6" y2="539" stroke="#231F20" stroke-width="1.35" stroke-linecap="butt"/>
<line x1="32" y1="538.4" x2="161" y2="538.4" stroke="#231F20" stroke-width="1.35" stroke-linecap="butt"/>
<line x1="30.5" y1="480.2" x2="33.8" y2="476.6" stroke="#231F20" stroke-width="1.25" stroke-linecap="butt"/>
<line x1="30.5" y1="484.7" x2="34.2" y2="481.3" stroke="#231F20" stroke-width="1.25" stroke-linecap="butt"/>
<line x1="29" y1="436.6" x2="32.6" y2="436.6" stroke="#231F20" stroke-width="1.1" stroke-linecap="butt"/>
<line x1="29" y1="462" x2="32.6" y2="462" stroke="#231F20" stroke-width="1.1" stroke-linecap="butt"/>
<line x1="30.6" y1="434" x2="32.6" y2="434" stroke="#231F20" stroke-width="0.8" stroke-linecap="butt"/>
<line x1="30.6" y1="431.4" x2="32.6" y2="431.4" stroke="#231F20" stroke-width="0.8" stroke-linecap="butt"/>
<line x1="30.6" y1="428.8" x2="32.6" y2="428.8" stroke="#231F20" stroke-width="0.8" stroke-linecap="butt"/>
<line x1="30.6" y1="426.2" x2="32.6" y2="426.2" stroke="#231F20" stroke-width="0.8" stroke-linecap="butt"/>
<line x1="30.6" y1="423.6" x2="32.6" y2="423.6" stroke="#231F20" stroke-width="0.8" stroke-linecap="butt"/>
<line x1="30.6" y1="421" x2="32.6" y2="421" stroke="#231F20" stroke-width="0.8" stroke-linecap="butt"/>
<line x1="30.6" y1="418.4" x2="32.6" y2="418.4" stroke="#231F20" stroke-width="0.8" stroke-linecap="butt"/>
<line x1="30.6" y1="456.92" x2="32.6" y2="456.92" stroke="#231F20" stroke-width="0.8" stroke-linecap="butt"/>
<line x1="30.6" y1="451.84" x2="32.6" y2="451.84" stroke="#231F20" stroke-width="0.8" stroke-linecap="butt"/>
<line x1="30.6" y1="446.76" x2="32.6" y2="446.76" stroke="#231F20" stroke-width="0.8" stroke-linecap="butt"/>
<line x1="30.6" y1="441.68" x2="32.6" y2="441.68" stroke="#231F20" stroke-width="0.8" stroke-linecap="butt"/>
<line x1="30.6" y1="464.54" x2="32.6" y2="464.54" stroke="#231F20" stroke-width="0.8" stroke-linecap="butt"/>
<line x1="30.6" y1="467.08" x2="32.6" y2="467.08" stroke="#231F20" stroke-width="0.8" stroke-linecap="butt"/>
<line x1="30.6" y1="469.62" x2="32.6" y2="469.62" stroke="#231F20" stroke-width="0.8" stroke-linecap="butt"/>
<line x1="30.6" y1="472.16" x2="32.6" y2="472.16" stroke="#231F20" stroke-width="0.8" stroke-linecap="butt"/>
<line x1="30.6" y1="474.7" x2="32.6" y2="474.7" stroke="#231F20" stroke-width="0.8" stroke-linecap="butt"/>
<text x="26.5" y="439.6" font-size="8" text-anchor="end" fill="#231F20" >10</text>
<text x="26.5" y="465" font-size="8" text-anchor="end" fill="#231F20" >5</text>
<line x1="29" y1="487.4" x2="32.6" y2="487.4" stroke="#231F20" stroke-width="1.1" stroke-linecap="butt"/>
<text x="26.5" y="490.4" font-size="8" text-anchor="end" fill="#231F20" >1.0</text>
<line x1="29" y1="513" x2="32.6" y2="513" stroke="#231F20" stroke-width="1.1" stroke-linecap="butt"/>
<text x="26.5" y="516" font-size="8" text-anchor="end" fill="#231F20" >0.5</text>
<line x1="29" y1="538.4" x2="32.6" y2="538.4" stroke="#231F20" stroke-width="1.1" stroke-linecap="butt"/>
<text x="26.5" y="541.4" font-size="8" text-anchor="end" fill="#231F20" >0.0</text>
<line x1="39.3" y1="538.4" x2="39.3" y2="541.7" stroke="#231F20" stroke-width="1.1" stroke-linecap="butt"/>
<line x1="52.2" y1="538.4" x2="52.2" y2="541.7" stroke="#231F20" stroke-width="1.1" stroke-linecap="butt"/>
<line x1="64.7" y1="538.4" x2="64.7" y2="541.7" stroke="#231F20" stroke-width="1.1" stroke-linecap="butt"/>
<line x1="83.7" y1="538.4" x2="83.7" y2="541.7" stroke="#231F20" stroke-width="1.1" stroke-linecap="butt"/>
<line x1="96.2" y1="538.4" x2="96.2" y2="541.7" stroke="#231F20" stroke-width="1.1" stroke-linecap="butt"/>
<line x1="109.2" y1="538.4" x2="109.2" y2="541.7" stroke="#231F20" stroke-width="1.1" stroke-linecap="butt"/>
<line x1="127.8" y1="538.4" x2="127.8" y2="541.7" stroke="#231F20" stroke-width="1.1" stroke-linecap="butt"/>
<line x1="140.3" y1="538.4" x2="140.3" y2="541.7" stroke="#231F20" stroke-width="1.1" stroke-linecap="butt"/>
<line x1="153.2" y1="538.4" x2="153.2" y2="541.7" stroke="#231F20" stroke-width="1.1" stroke-linecap="butt"/>
<text x="39.5" y="549.9" font-size="7.2" text-anchor="middle" textLength="6" lengthAdjust="spacingAndGlyphs" fill="#231F20" font-weight="bold" stroke="none">AA</text>
<text x="52.1" y="549.9" font-size="7.2" text-anchor="middle" textLength="6" lengthAdjust="spacingAndGlyphs" fill="#231F20" font-weight="bold" stroke="none">SS</text>
<text x="65.5" y="549.9" font-size="7.2" text-anchor="middle" textLength="13.2" lengthAdjust="spacingAndGlyphs" fill="#231F20" font-weight="bold" stroke="none">SS-ET</text>
<line x1="34.6" y1="552.1" x2="72.6" y2="552.1" stroke="#4a4647" stroke-width="1" stroke-linecap="butt"/>
<text x="54.2" y="562.6" font-size="9.2" text-anchor="middle" textLength="16.6" lengthAdjust="spacingAndGlyphs" fill="#231F20" font-weight="bold" stroke-width="0.1">TNF&#945;</text>
<text x="83.9" y="549.9" font-size="7.2" text-anchor="middle" textLength="6" lengthAdjust="spacingAndGlyphs" fill="#231F20" font-weight="bold" stroke="none">AA</text>
<text x="96.1" y="549.9" font-size="7.2" text-anchor="middle" textLength="6" lengthAdjust="spacingAndGlyphs" fill="#231F20" font-weight="bold" stroke="none">SS</text>
<text x="110" y="549.9" font-size="7.2" text-anchor="middle" textLength="13.2" lengthAdjust="spacingAndGlyphs" fill="#231F20" font-weight="bold" stroke="none">SS-ET</text>
<line x1="78.6" y1="552.1" x2="117" y2="552.1" stroke="#4a4647" stroke-width="1" stroke-linecap="butt"/>
<text x="98.1" y="562.6" font-size="9.2" text-anchor="middle" textLength="9" lengthAdjust="spacingAndGlyphs" fill="#231F20" font-weight="bold" stroke-width="0.1">IL8</text>
<text x="128" y="549.9" font-size="7.2" text-anchor="middle" textLength="6" lengthAdjust="spacingAndGlyphs" fill="#231F20" font-weight="bold" stroke="none">AA</text>
<text x="140.2" y="549.9" font-size="7.2" text-anchor="middle" textLength="6" lengthAdjust="spacingAndGlyphs" fill="#231F20" font-weight="bold" stroke="none">SS</text>
<text x="154" y="549.9" font-size="7.2" text-anchor="middle" textLength="13.2" lengthAdjust="spacingAndGlyphs" fill="#231F20" font-weight="bold" stroke="none">SS-ET</text>
<line x1="123.2" y1="552.1" x2="161.2" y2="552.1" stroke="#4a4647" stroke-width="1" stroke-linecap="butt"/>
<text x="142" y="562.6" font-size="9.2" text-anchor="middle" textLength="14" lengthAdjust="spacingAndGlyphs" fill="#231F20" font-weight="bold" stroke-width="0.1">IL1&#946;</text>
<line x1="39.4" y1="421.4" x2="52.4" y2="421.4" stroke="#231F20" stroke-width="1.15" stroke-linecap="butt"/>
<line x1="39.4" y1="419.6" x2="39.4" y2="423.2" stroke="#231F20" stroke-width="1.15" stroke-linecap="butt"/>
<line x1="52.4" y1="419.6" x2="52.4" y2="423.2" stroke="#231F20" stroke-width="1.15" stroke-linecap="butt"/>
<text x="45.9" y="420.2" font-size="6.2" text-anchor="middle" fill="#231F20" >*</text>
<line x1="83" y1="432" x2="95.6" y2="432" stroke="#231F20" stroke-width="1.15" stroke-linecap="butt"/>
<line x1="83" y1="430.2" x2="83" y2="433.8" stroke="#231F20" stroke-width="1.15" stroke-linecap="butt"/>
<line x1="95.6" y1="430.2" x2="95.6" y2="433.8" stroke="#231F20" stroke-width="1.15" stroke-linecap="butt"/>
<text x="89.3" y="430.8" font-size="6.2" text-anchor="middle" fill="#231F20" >***</text>
<line x1="127" y1="480" x2="140" y2="480" stroke="#231F20" stroke-width="1.15" stroke-linecap="butt"/>
<line x1="127" y1="478.2" x2="127" y2="481.8" stroke="#231F20" stroke-width="1.15" stroke-linecap="butt"/>
<line x1="140" y1="478.2" x2="140" y2="481.8" stroke="#231F20" stroke-width="1.15" stroke-linecap="butt"/>
<text x="133.5" y="478.8" font-size="6.2" text-anchor="middle" fill="#231F20" >*</text>
<line x1="140.6" y1="467" x2="154" y2="467" stroke="#231F20" stroke-width="1.15" stroke-linecap="butt"/>
<line x1="140.6" y1="465.2" x2="140.6" y2="468.8" stroke="#231F20" stroke-width="1.15" stroke-linecap="butt"/>
<line x1="154" y1="465.2" x2="154" y2="468.8" stroke="#231F20" stroke-width="1.15" stroke-linecap="butt"/>
<text x="147.3" y="465.8" font-size="6.2" text-anchor="middle" fill="#231F20" >*</text>
<text x="2.5" y="411.2" font-size="12" text-anchor="start" font-weight="bold" fill="#231F20" stroke-width="0.45">G</text>
<text x="9.8" y="479.5" font-size="8.2" text-anchor="middle" transform="rotate(-90 9.8 479.5)" textLength="17" lengthAdjust="spacingAndGlyphs" fill="#231F20" font-weight="bold" stroke="none">pg/ml</text>
<defs><filter id="bl" x="-20%" y="-20%" width="140%" height="140%"><feGaussianBlur stdDeviation="0.45"/></filter></defs>
<text x="353.7" y="443.7" font-size="7.4" text-anchor="end" textLength="6.2" lengthAdjust="spacingAndGlyphs" fill="#231F20" font-weight="bold" stroke="none">AA</text>
<rect x="356.4" y="434.4" width="13.1" height="13.2" fill="#040604"/>
<rect x="371.45" y="434.4" width="13.1" height="13.2" fill="#040604"/>
<rect x="386.5" y="434.4" width="13.1" height="13.2" fill="#040604"/>
<rect x="401.55" y="434.4" width="13.1" height="13.2" fill="#040604"/>
<rect x="416.6" y="434.4" width="13.1" height="13.2" fill="#040604"/>
<rect x="431.65" y="434.4" width="13.1" height="13.2" fill="#040604"/>
<rect x="446.7" y="434.4" width="13.1" height="13.2" fill="#040604"/>
<rect x="461.75" y="434.4" width="13.1" height="13.2" fill="#040604"/>
<rect x="476.8" y="434.4" width="13.1" height="13.2" fill="#040604"/>
<rect x="491.85" y="434.4" width="13.1" height="13.2" fill="#040604"/>
<rect x="506.9" y="434.4" width="13.1" height="13.2" fill="#040604"/>
<text x="353.7" y="466.9" font-size="7.4" text-anchor="end" textLength="5.8" lengthAdjust="spacingAndGlyphs" fill="#231F20" font-weight="bold" stroke="none">SS</text>
<rect x="356.4" y="457.6" width="13.1" height="13.2" fill="#040604"/>
<g filter="url(#bl)"><rect x="356.4" y="457.6" width="13.1" height="13.1" fill="#0d3a10" opacity="0.2"/><circle cx="360.85" cy="460" r="0.66" fill="#0f5a12" opacity="0.39"/><circle cx="361.35" cy="458.89" r="0.58" fill="#1a8a20" opacity="0.37"/><circle cx="361.98" cy="461.06" r="0.6" fill="#0f5a12" opacity="0.38"/><circle cx="368.27" cy="465.7" r="0.62" fill="#1a8a20" opacity="0.38"/><circle cx="357.59" cy="460.83" r="0.61" fill="#1a8a20" opacity="0.42"/><circle cx="358.72" cy="459.6" r="0.47" fill="#14701a" opacity="0.76"/><circle cx="358.23" cy="465" r="0.4" fill="#0f5a12" opacity="0.4"/><circle cx="363.72" cy="465.57" r="0.57" fill="#0c4a0e" opacity="0.62"/><circle cx="362.54" cy="469.19" r="0.5" fill="#14701a" opacity="0.47"/><circle cx="365.32" cy="461.1" r="0.62" fill="#0c4a0e" opacity="0.61"/><circle cx="365.68" cy="461.63" r="0.84" fill="#1a8a20" opacity="0.41"/><circle cx="358.96" cy="462.27" r="0.81" fill="#0f5a12" opacity="0.56"/><circle cx="366.1" cy="465.02" r="0.78" fill="#0c4a0e" opacity="0.51"/><circle cx="364.07" cy="465.1" r="0.55" fill="#0c4a0e" opacity="0.77"/><circle cx="362.64" cy="466.1" r="0.33" fill="#1a8a20" opacity="0.7"/><circle cx="360.39" cy="462.79" r="0.67" fill="#1a8a20" opacity="0.36"/><circle cx="361.23" cy="465.47" r="0.57" fill="#0c4a0e" opacity="0.46"/><circle cx="358.54" cy="461.15" r="0.52" fill="#0f5a12" opacity="0.79"/><circle cx="358.98" cy="462.98" r="0.45" fill="#1a8a20" opacity="0.42"/><circle cx="367.28" cy="461.51" r="0.53" fill="#1a8a20" opacity="0.53"/><circle cx="368.4" cy="460" r="0.4" fill="#14701a" opacity="0.47"/><circle cx="357.14" cy="468.09" r="0.4" fill="#14701a" opacity="0.49"/><circle cx="361.99" cy="462.59" r="0.61" fill="#0f5a12" opacity="0.83"/><circle cx="362.43" cy="468.56" r="0.82" fill="#1a8a20" opacity="0.69"/><circle cx="361.74" cy="462.89" r="0.56" fill="#14701a" opacity="0.55"/><circle cx="357.8" cy="460.68" r="0.39" fill="#0f5a12" opacity="0.52"/><circle cx="358.22" cy="464.94" r="0.6" fill="#0f5a12" opacity="0.82"/><circle cx="357.84" cy="460.67" r="0.51" fill="#0c4a0e" opacity="0.67"/><circle cx="364.17" cy="463.84" r="0.36" fill="#1a8a20" opacity="0.59"/><circle cx="362.72" cy="461.91" r="0.38" fill="#0c4a0e" opacity="0.72"/><circle cx="362.7" cy="466.44" r="0.71" fill="#3fe644" opacity="0.59"/><circle cx="361.3" cy="466.41" r="0.95" fill="#25b82a" opacity="0.84"/><circle cx="368.64" cy="468.47" r="0.82" fill="#25b82a" opacity="0.62"/><circle cx="367.81" cy="462.43" r="0.53" fill="#3fe644" opacity="0.74"/><circle cx="360.92" cy="460.85" r="0.89" fill="#2fd032" opacity="0.94"/><circle cx="366.59" cy="467.94" r="0.84" fill="#3fe644" opacity="0.6"/><circle cx="362.86" cy="466.9" r="0.99" fill="#25b82a" opacity="0.86"/><circle cx="360.08" cy="466.44" r="0.97" fill="#3fe644" opacity="0.7"/><circle cx="368.76" cy="469.56" r="0.62" fill="#2fd032" opacity="0.6"/><circle cx="362.59" cy="462.22" r="0.69" fill="#3fe644" opacity="0.94"/></g>
<rect x="371.45" y="457.6" width="13.1" height="13.2" fill="#040604"/>
<g filter="url(#bl)"><rect x="371.45" y="457.6" width="13.1" height="13.1" fill="#0d3a10" opacity="0.2"/><circle cx="382.05" cy="463.91" r="0.66" fill="#0f5a12" opacity="0.75"/><circle cx="381.98" cy="459.63" r="0.51" fill="#14701a" opacity="0.71"/><circle cx="377.74" cy="460.32" r="0.73" fill="#1a8a20" opacity="0.52"/><circle cx="377.56" cy="467.05" r="0.35" fill="#14701a" opacity="0.43"/><circle cx="372.38" cy="465.23" r="0.56" fill="#1a8a20" opacity="0.68"/><circle cx="379.87" cy="462.37" r="0.6" fill="#0f5a12" opacity="0.42"/><circle cx="381.56" cy="466.84" r="0.36" fill="#14701a" opacity="0.72"/><circle cx="377.21" cy="468.57" r="0.75" fill="#0c4a0e" opacity="0.46"/><circle cx="374.58" cy="464.16" r="0.72" fill="#1a8a20" opacity="0.51"/><circle cx="381.98" cy="458.92" r="0.71" fill="#1a8a20" opacity="0.8"/><circle cx="381.89" cy="468.65" r="0.37" fill="#0f5a12" opacity="0.43"/><circle cx="382.44" cy="467.44" r="0.63" fill="#14701a" opacity="0.74"/><circle cx="374.1" cy="463.83" r="0.7" fill="#0c4a0e" opacity="0.63"/><circle cx="380.17" cy="464.52" r="0.57" fill="#0f5a12" opacity="0.74"/><circle cx="375.01" cy="461.5" r="0.72" fill="#0f5a12" opacity="0.6"/><circle cx="381.09" cy="469.06" r="0.54" fill="#14701a" opacity="0.66"/><circle cx="380.29" cy="463.58" r="0.59" fill="#14701a" opacity="0.59"/><circle cx="380.37" cy="468.63" r="0.82" fill="#14701a" opacity="0.48"/><circle cx="382.05" cy="459.83" r="0.37" fill="#0f5a12" opacity="0.57"/><circle cx="380.04" cy="463.3" r="0.42" fill="#0f5a12" opacity="0.5"/><circle cx="382.72" cy="460.04" r="0.69" fill="#14701a" opacity="0.68"/><circle cx="375.06" cy="459.83" r="0.56" fill="#0f5a12" opacity="0.72"/><circle cx="376.79" cy="464" r="0.84" fill="#14701a" opacity="0.77"/><circle cx="380.46" cy="470.03" r="0.52" fill="#0c4a0e" opacity="0.56"/><circle cx="375.84" cy="466.79" r="0.31" fill="#1a8a20" opacity="0.63"/><circle cx="380.42" cy="462.77" r="0.58" fill="#0f5a12" opacity="0.5"/><circle cx="373.39" cy="469.13" r="0.43" fill="#0f5a12" opacity="0.79"/><circle cx="375.21" cy="458.67" r="0.73" fill="#14701a" opacity="0.49"/><circle cx="381.81" cy="468.31" r="0.67" fill="#1a8a20" opacity="0.82"/><circle cx="373.83" cy="469.14" r="0.61" fill="#0f5a12" opacity="0.7"/><circle cx="375.37" cy="467.72" r="0.51" fill="#25b82a" opacity="0.9"/><circle cx="383.22" cy="465.75" r="0.88" fill="#2fd032" opacity="0.54"/><circle cx="372.84" cy="468.47" r="0.67" fill="#3fe644" opacity="0.65"/><circle cx="377.02" cy="469.09" r="0.77" fill="#3fe644" opacity="0.52"/><circle cx="374.89" cy="459.5" r="0.5" fill="#2fd032" opacity="0.52"/><circle cx="383.14" cy="465.68" r="0.72" fill="#25b82a" opacity="0.59"/><circle cx="378" cy="460.32" r="0.61" fill="#25b82a" opacity="0.51"/><circle cx="372.49" cy="458.42" r="0.7" fill="#3fe644" opacity="0.94"/><circle cx="377.7" cy="469.32" r="0.46" fill="#25b82a" opacity="0.87"/><circle cx="379.86" cy="464.7" r="0.93" fill="#25b82a" opacity="0.94"/></g>
<rect x="386.5" y="457.6" width="13.1" height="13.2" fill="#040604"/>
<g filter="url(#bl)"><rect x="386.5" y="457.6" width="13.1" height="13.1" fill="#0d3a10" opacity="0.2"/><circle cx="395.28" cy="469.89" r="0.49" fill="#14701a" opacity="0.77"/><circle cx="391.92" cy="462.34" r="0.33" fill="#0f5a12" opacity="0.41"/><circle cx="394.54" cy="468.67" r="0.54" fill="#1a8a20" opacity="0.38"/><circle cx="397.46" cy="466.18" r="0.46" fill="#0c4a0e" opacity="0.47"/><circle cx="387.64" cy="460.41" r="0.45" fill="#0c4a0e" opacity="0.35"/><circle cx="398.55" cy="469.77" r="0.6" fill="#0c4a0e" opacity="0.47"/><circle cx="389.69" cy="460.38" r="0.48" fill="#0c4a0e" opacity="0.39"/><circle cx="393.08" cy="460.59" r="0.58" fill="#0c4a0e" opacity="0.35"/><circle cx="396.82" cy="459.91" r="0.62" fill="#0c4a0e" opacity="0.55"/><circle cx="390.72" cy="460.97" r="0.62" fill="#14701a" opacity="0.61"/><circle cx="394.92" cy="466.72" r="0.78" fill="#0c4a0e" opacity="0.54"/><circle cx="395.68" cy="464.08" r="0.46" fill="#14701a" opacity="0.66"/><circle cx="387.62" cy="468.14" r="0.79" fill="#14701a" opacity="0.66"/><circle cx="397.93" cy="467.16" r="0.61" fill="#0f5a12" opacity="0.76"/><circle cx="396.93" cy="465.15" r="0.79" fill="#14701a" opacity="0.69"/><circle cx="388.11" cy="458.7" r="0.65" fill="#1a8a20" opacity="0.83"/><circle cx="397.05" cy="464.85" r="0.65" fill="#14701a" opacity="0.66"/><circle cx="392.92" cy="458.24" r="0.74" fill="#0f5a12" opacity="0.72"/><circle cx="394.95" cy="458.99" r="0.71" fill="#0f5a12" opacity="0.48"/><circle cx="397.17" cy="460.99" r="0.72" fill="#1a8a20" opacity="0.47"/><circle cx="392.98" cy="462.75" r="0.56" fill="#0f5a12" opacity="0.69"/><circle cx="394.44" cy="465.85" r="0.34" fill="#0c4a0e" opacity="0.42"/><circle cx="394.85" cy="466.45" r="0.64" fill="#1a8a20" opacity="0.42"/><circle cx="387.82" cy="461.4" r="0.67" fill="#1a8a20" opacity="0.7"/><circle cx="390.56" cy="464.35" r="0.56" fill="#0f5a12" opacity="0.58"/><circle cx="398.92" cy="464.73" r="0.47" fill="#1a8a20" opacity="0.39"/><circle cx="387.31" cy="463.66" r="0.75" fill="#1a8a20" opacity="0.83"/><circle cx="398.93" cy="462.8" r="0.8" fill="#0f5a12" opacity="0.82"/><circle cx="394.02" cy="459.89" r="0.59" fill="#14701a" opacity="0.83"/><circle cx="394.28" cy="465.72" r="0.45" fill="#0c4a0e" opacity="0.41"/><circle cx="389.85" cy="468.88" r="0.69" fill="#2fd032" opacity="0.51"/><circle cx="398.4" cy="466.31" r="0.64" fill="#25b82a" opacity="0.83"/><circle cx="391.19" cy="461.96" r="0.9" fill="#25b82a" opacity="0.5"/><circle cx="397.09" cy="459.63" r="0.96" fill="#3fe644" opacity="0.82"/><circle cx="390.55" cy="462.63" r="0.64" fill="#3fe644" opacity="0.95"/><circle cx="388.01" cy="469.21" r="0.85" fill="#25b82a" opacity="0.88"/><circle cx="388.31" cy="468.13" r="0.57" fill="#2fd032" opacity="0.92"/><circle cx="398.66" cy="463.39" r="0.59" fill="#25b82a" opacity="0.85"/><circle cx="397.62" cy="467.86" r="0.78" fill="#3fe644" opacity="0.91"/><circle cx="393.64" cy="466.76" r="0.43" fill="#25b82a" opacity="0.83"/></g>
<rect x="401.55" y="457.6" width="13.1" height="13.2" fill="#040604"/>
<g filter="url(#bl)"><rect x="401.55" y="457.6" width="13.1" height="13.1" fill="#0d3a10" opacity="0.2"/><circle cx="409.47" cy="459.85" r="0.78" fill="#14701a" opacity="0.59"/><circle cx="404.18" cy="463.14" r="0.45" fill="#0c4a0e" opacity="0.48"/><circle cx="406.98" cy="461.04" r="0.57" fill="#0f5a12" opacity="0.68"/><circle cx="404.14" cy="460.12" r="0.41" fill="#1a8a20" opacity="0.8"/><circle cx="408.7" cy="463.59" r="0.48" fill="#1a8a20" opacity="0.73"/><circle cx="403.81" cy="460.49" r="0.35" fill="#0f5a12" opacity="0.52"/><circle cx="405.95" cy="462.58" r="0.75" fill="#0f5a12" opacity="0.45"/><circle cx="411.07" cy="463.11" r="0.53" fill="#1a8a20" opacity="0.61"/><circle cx="405.37" cy="467.15" r="0.57" fill="#0c4a0e" opacity="0.64"/><circle cx="403.65" cy="464.19" r="0.65" fill="#14701a" opacity="0.78"/><circle cx="403.25" cy="468.87" r="0.51" fill="#1a8a20" opacity="0.67"/><circle cx="413.5" cy="468.3" r="0.78" fill="#0f5a12" opacity="0.36"/><circle cx="407.21" cy="467.29" r="0.74" fill="#1a8a20" opacity="0.83"/><circle cx="402.15" cy="462.86" r="0.81" fill="#1a8a20" opacity="0.76"/><circle cx="413.72" cy="461.16" r="0.36" fill="#0f5a12" opacity="0.43"/><circle cx="413.35" cy="466.79" r="0.66" fill="#1a8a20" opacity="0.73"/><circle cx="403.16" cy="467.44" r="0.3" fill="#0f5a12" opacity="0.41"/><circle cx="409.83" cy="461.82" r="0.37" fill="#1a8a20" opacity="0.48"/><circle cx="410.46" cy="459.53" r="0.34" fill="#14701a" opacity="0.61"/><circle cx="406.77" cy="460.86" r="0.63" fill="#0c4a0e" opacity="0.36"/><circle cx="414.01" cy="461.52" r="0.47" fill="#14701a" opacity="0.77"/><circle cx="407.81" cy="460.99" r="0.44" fill="#0c4a0e" opacity="0.83"/><circle cx="402.81" cy="460.51" r="0.79" fill="#0f5a12" opacity="0.67"/><circle cx="405.21" cy="466.14" r="0.81" fill="#0f5a12" opacity="0.46"/><circle cx="410.43" cy="466.75" r="0.5" fill="#0f5a12" opacity="0.55"/><circle cx="411.64" cy="467" r="0.58" fill="#14701a" opacity="0.45"/><circle cx="405.86" cy="467.96" r="0.43" fill="#0c4a0e" opacity="0.46"/><circle cx="403.45" cy="465.62" r="0.64" fill="#1a8a20" opacity="0.8"/><circle cx="407.11" cy="466.12" r="0.82" fill="#1a8a20" opacity="0.42"/><circle cx="402.8" cy="458.48" r="0.63" fill="#0f5a12" opacity="0.56"/><circle cx="404.34" cy="463.55" r="0.83" fill="#2fd032" opacity="0.64"/><circle cx="414.02" cy="469.29" r="0.6" fill="#3fe644" opacity="0.58"/><circle cx="411.03" cy="458.58" r="0.8" fill="#25b82a" opacity="0.67"/><circle cx="413.87" cy="463.46" r="0.47" fill="#2fd032" opacity="0.54"/><circle cx="406.33" cy="469.57" r="0.47" fill="#2fd032" opacity="0.93"/><circle cx="406.67" cy="467.35" r="0.59" fill="#2fd032" opacity="0.86"/><circle cx="402.74" cy="463.83" r="0.62" fill="#2fd032" opacity="0.91"/><circle cx="406" cy="466.97" r="0.68" fill="#2fd032" opacity="0.78"/><circle cx="411.81" cy="467.32" r="0.42" fill="#2fd032" opacity="0.52"/><circle cx="411.71" cy="458.94" r="0.52" fill="#3fe644" opacity="0.53"/></g>
<rect x="416.6" y="457.6" width="13.1" height="13.2" fill="#040604"/>
<g filter="url(#bl)"><rect x="416.6" y="457.6" width="13.1" height="13.1" fill="#0d3a10" opacity="0.2"/><circle cx="421.23" cy="461.44" r="0.83" fill="#0c4a0e" opacity="0.66"/><circle cx="426.08" cy="466.41" r="0.81" fill="#0f5a12" opacity="0.5"/><circle cx="417.49" cy="460.98" r="0.56" fill="#1a8a20" opacity="0.83"/><circle cx="426.6" cy="469.07" r="0.75" fill="#1a8a20" opacity="0.42"/><circle cx="419.38" cy="467.75" r="0.71" fill="#14701a" opacity="0.76"/><circle cx="424.43" cy="462.1" r="0.48" fill="#0f5a12" opacity="0.53"/><circle cx="423.29" cy="462.86" r="0.39" fill="#0f5a12" opacity="0.55"/><circle cx="422.93" cy="464.68" r="0.39" fill="#0f5a12" opacity="0.56"/><circle cx="428.96" cy="461.35" r="0.35" fill="#1a8a20" opacity="0.4"/><circle cx="428.96" cy="469.77" r="0.4" fill="#1a8a20" opacity="0.42"/><circle cx="424.58" cy="466.22" r="0.71" fill="#0f5a12" opacity="0.77"/><circle cx="426.48" cy="461.7" r="0.45" fill="#0c4a0e" opacity="0.48"/><circle cx="425.98" cy="460.57" r="0.44" fill="#14701a" opacity="0.47"/><circle cx="420.55" cy="469" r="0.4" fill="#0c4a0e" opacity="0.38"/><circle cx="429.01" cy="464.24" r="0.43" fill="#1a8a20" opacity="0.75"/><circle cx="428.99" cy="459.42" r="0.56" fill="#1a8a20" opacity="0.76"/><circle cx="428.08" cy="458.68" r="0.46" fill="#14701a" opacity="0.41"/><circle cx="424.35" cy="468.05" r="0.41" fill="#14701a" opacity="0.39"/><circle cx="422.54" cy="461.29" r="0.73" fill="#0f5a12" opacity="0.82"/><circle cx="424.79" cy="466.65" r="0.49" fill="#0c4a0e" opacity="0.37"/><circle cx="418.88" cy="460.63" r="0.44" fill="#14701a" opacity="0.65"/><circle cx="426.9" cy="467.94" r="0.52" fill="#0c4a0e" opacity="0.54"/><circle cx="418.13" cy="458.57" r="0.57" fill="#1a8a20" opacity="0.59"/><circle cx="418.41" cy="462.9" r="0.6" fill="#0f5a12" opacity="0.67"/><circle cx="424.97" cy="462.93" r="0.45" fill="#0c4a0e" opacity="0.84"/><circle cx="422.17" cy="458.81" r="0.71" fill="#1a8a20" opacity="0.79"/><circle cx="422.16" cy="468.48" r="0.85" fill="#14701a" opacity="0.53"/><circle cx="421.85" cy="463.02" r="0.82" fill="#14701a" opacity="0.57"/><circle cx="422.24" cy="467.96" r="0.52" fill="#1a8a20" opacity="0.79"/><circle cx="426.4" cy="459.75" r="0.33" fill="#1a8a20" opacity="0.42"/><circle cx="418.26" cy="465.6" r="0.62" fill="#2fd032" opacity="0.73"/><circle cx="421.34" cy="460.13" r="0.5" fill="#25b82a" opacity="0.53"/><circle cx="423.04" cy="467.78" r="0.98" fill="#2fd032" opacity="0.59"/><circle cx="427.16" cy="458.72" r="0.95" fill="#3fe644" opacity="0.64"/><circle cx="428.22" cy="462.82" r="0.94" fill="#2fd032" opacity="0.78"/><circle cx="424.82" cy="468.39" r="0.77" fill="#2fd032" opacity="0.78"/><circle cx="427.07" cy="460.38" r="0.53" fill="#3fe644" opacity="0.68"/><circle cx="419.06" cy="462.47" r="0.49" fill="#2fd032" opacity="0.94"/><circle cx="417.69" cy="464.89" r="0.85" fill="#25b82a" opacity="0.52"/><circle cx="418.6" cy="465.33" r="0.73" fill="#25b82a" opacity="0.78"/></g>
<rect x="431.65" y="457.6" width="13.1" height="13.2" fill="#040604"/>
<g filter="url(#bl)"><rect x="431.65" y="457.6" width="13.1" height="13.1" fill="#0d3a10" opacity="0.2"/><circle cx="439.97" cy="461.87" r="0.44" fill="#0c4a0e" opacity="0.54"/><circle cx="437.57" cy="463.42" r="0.31" fill="#1a8a20" opacity="0.66"/><circle cx="437.79" cy="463.52" r="0.64" fill="#14701a" opacity="0.76"/><circle cx="441.9" cy="462.96" r="0.34" fill="#0c4a0e" opacity="0.53"/><circle cx="433.34" cy="463.46" r="0.58" fill="#14701a" opacity="0.37"/><circle cx="433.23" cy="466.93" r="0.73" fill="#0f5a12" opacity="0.61"/><circle cx="441.2" cy="468.85" r="0.66" fill="#0f5a12" opacity="0.74"/><circle cx="442.45" cy="470.05" r="0.7" fill="#14701a" opacity="0.76"/><circle cx="433.82" cy="468.74" r="0.46" fill="#14701a" opacity="0.76"/><circle cx="440.41" cy="466.78" r="0.42" fill="#0c4a0e" opacity="0.77"/><circle cx="434.14" cy="468.87" r="0.45" fill="#14701a" opacity="0.76"/><circle cx="435.27" cy="469.68" r="0.56" fill="#14701a" opacity="0.65"/><circle cx="436.05" cy="458.64" r="0.4" fill="#0c4a0e" opacity="0.43"/><circle cx="440.34" cy="468.86" r="0.39" fill="#0f5a12" opacity="0.74"/><circle cx="441.39" cy="458.78" r="0.77" fill="#1a8a20" opacity="0.83"/><circle cx="438.86" cy="465.1" r="0.79" fill="#1a8a20" opacity="0.4"/><circle cx="441.03" cy="462.62" r="0.51" fill="#14701a" opacity="0.53"/><circle cx="436.54" cy="467.3" r="0.54" fill="#0f5a12" opacity="0.44"/><circle cx="435.78" cy="464.34" r="0.47" fill="#0c4a0e" opacity="0.83"/><circle cx="440.97" cy="467.09" r="0.42" fill="#1a8a20" opacity="0.5"/><circle cx="437.22" cy="462.53" r="0.33" fill="#0f5a12" opacity="0.59"/><circle cx="432.52" cy="458.23" r="0.5" fill="#0c4a0e" opacity="0.4"/><circle cx="438.61" cy="463.12" r="0.47" fill="#0c4a0e" opacity="0.42"/><circle cx="439.67" cy="463.85" r="0.37" fill="#14701a" opacity="0.82"/><circle cx="440.67" cy="463.57" r="0.34" fill="#0c4a0e" opacity="0.42"/><circle cx="437.03" cy="461.34" r="0.31" fill="#0c4a0e" opacity="0.67"/><circle cx="439.33" cy="465.08" r="0.63" fill="#1a8a20" opacity="0.61"/><circle cx="435.21" cy="468.95" r="0.32" fill="#1a8a20" opacity="0.62"/><circle cx="434.46" cy="460.09" r="0.8" fill="#14701a" opacity="0.4"/><circle cx="433.94" cy="460.57" r="0.63" fill="#1a8a20" opacity="0.6"/><circle cx="441.93" cy="460.28" r="0.59" fill="#2fd032" opacity="0.64"/><circle cx="444.08" cy="466.82" r="0.69" fill="#25b82a" opacity="0.74"/><circle cx="442.3" cy="467.07" r="0.68" fill="#25b82a" opacity="0.83"/><circle cx="434.34" cy="470.06" r="0.56" fill="#2fd032" opacity="0.79"/><circle cx="436.24" cy="467.12" r="0.82" fill="#3fe644" opacity="0.88"/><circle cx="432.88" cy="465.77" r="0.81" fill="#3fe644" opacity="0.81"/><circle cx="443.82" cy="461.72" r="0.96" fill="#2fd032" opacity="0.9"/><circle cx="442.72" cy="458.38" r="0.56" fill="#3fe644" opacity="0.61"/><circle cx="434.66" cy="460.09" r="0.95" fill="#25b82a" opacity="0.59"/><circle cx="436.16" cy="461.05" r="0.94" fill="#3fe644" opacity="0.78"/></g>
<rect x="446.7" y="457.6" width="13.1" height="13.2" fill="#040604"/>
<g filter="url(#bl)"><rect x="446.7" y="457.6" width="13.1" height="13.1" fill="#0d3a10" opacity="0.2"/><circle cx="458.98" cy="468.21" r="0.59" fill="#0f5a12" opacity="0.59"/><circle cx="457.5" cy="463.4" r="0.7" fill="#0c4a0e" opacity="0.64"/><circle cx="456.69" cy="462.86" r="0.62" fill="#14701a" opacity="0.63"/><circle cx="449.02" cy="458.52" r="0.36" fill="#0c4a0e" opacity="0.81"/><circle cx="458.93" cy="466.54" r="0.32" fill="#0f5a12" opacity="0.42"/><circle cx="455.59" cy="466.97" r="0.34" fill="#0c4a0e" opacity="0.65"/><circle cx="449.67" cy="469.56" r="0.59" fill="#1a8a20" opacity="0.68"/><circle cx="448.57" cy="460.65" r="0.36" fill="#0f5a12" opacity="0.37"/><circle cx="457.12" cy="465.72" r="0.46" fill="#0f5a12" opacity="0.4"/><circle cx="456.72" cy="465.89" r="0.46" fill="#0c4a0e" opacity="0.52"/><circle cx="447.55" cy="461.25" r="0.46" fill="#0c4a0e" opacity="0.71"/><circle cx="458.13" cy="467.35" r="0.63" fill="#0c4a0e" opacity="0.59"/><circle cx="454.66" cy="458.57" r="0.53" fill="#0f5a12" opacity="0.57"/><circle cx="451.43" cy="466.59" r="0.6" fill="#0f5a12" opacity="0.46"/><circle cx="454.14" cy="461.62" r="0.54" fill="#0c4a0e" opacity="0.61"/><circle cx="456.37" cy="469.84" r="0.3" fill="#1a8a20" opacity="0.6"/><circle cx="455.57" cy="468.02" r="0.83" fill="#0c4a0e" opacity="0.65"/><circle cx="454.18" cy="460.09" r="0.75" fill="#14701a" opacity="0.82"/><circle cx="453.23" cy="459.51" r="0.65" fill="#0f5a12" opacity="0.39"/><circle cx="454.77" cy="462.43" r="0.52" fill="#0f5a12" opacity="0.55"/><circle cx="452.32" cy="465.89" r="0.5" fill="#1a8a20" opacity="0.5"/><circle cx="458.02" cy="464.16" r="0.51" fill="#14701a" opacity="0.79"/><circle cx="458.53" cy="459.71" r="0.63" fill="#0f5a12" opacity="0.69"/><circle cx="451.45" cy="462.09" r="0.39" fill="#0c4a0e" opacity="0.77"/><circle cx="449.32" cy="463.42" r="0.73" fill="#14701a" opacity="0.64"/><circle cx="451.28" cy="465.85" r="0.68" fill="#0c4a0e" opacity="0.6"/><circle cx="450.89" cy="466.57" r="0.76" fill="#14701a" opacity="0.43"/><circle cx="458.9" cy="466.81" r="0.63" fill="#14701a" opacity="0.52"/><circle cx="451.2" cy="460.45" r="0.84" fill="#0f5a12" opacity="0.71"/><circle cx="449.26" cy="466.03" r="0.41" fill="#14701a" opacity="0.43"/><circle cx="456.76" cy="466.93" r="0.66" fill="#3fe644" opacity="0.59"/><circle cx="458.15" cy="461.54" r="0.93" fill="#2fd032" opacity="0.71"/><circle cx="452.05" cy="467.61" r="0.82" fill="#3fe644" opacity="0.73"/><circle cx="450.82" cy="458.46" r="0.55" fill="#2fd032" opacity="0.83"/><circle cx="456.12" cy="469.01" r="0.66" fill="#3fe644" opacity="0.76"/><circle cx="455" cy="468.27" r="0.8" fill="#3fe644" opacity="0.79"/><circle cx="455.63" cy="468.34" r="0.81" fill="#25b82a" opacity="0.79"/><circle cx="452.45" cy="461.29" r="0.82" fill="#2fd032" opacity="0.9"/><circle cx="456.61" cy="466.69" r="0.78" fill="#25b82a" opacity="0.61"/><circle cx="453.04" cy="458.43" r="0.92" fill="#3fe644" opacity="0.73"/></g>
<rect x="461.75" y="457.6" width="13.1" height="13.2" fill="#040604"/>
<g filter="url(#bl)"><rect x="461.75" y="457.6" width="13.1" height="13.1" fill="#0d3a10" opacity="0.2"/><circle cx="473.42" cy="460.38" r="0.66" fill="#1a8a20" opacity="0.74"/><circle cx="472.25" cy="469.01" r="0.36" fill="#14701a" opacity="0.48"/><circle cx="464.26" cy="467.5" r="0.82" fill="#0f5a12" opacity="0.61"/><circle cx="472.43" cy="463.64" r="0.41" fill="#0f5a12" opacity="0.59"/><circle cx="469.96" cy="468.06" r="0.59" fill="#1a8a20" opacity="0.56"/><circle cx="464.85" cy="466.34" r="0.52" fill="#0f5a12" opacity="0.73"/><circle cx="471.03" cy="465.51" r="0.65" fill="#1a8a20" opacity="0.48"/><circle cx="467.11" cy="458.36" r="0.53" fill="#0c4a0e" opacity="0.56"/><circle cx="469.25" cy="459.5" r="0.47" fill="#14701a" opacity="0.55"/><circle cx="474.18" cy="469.63" r="0.55" fill="#0f5a12" opacity="0.43"/><circle cx="471.98" cy="465.75" r="0.56" fill="#14701a" opacity="0.63"/><circle cx="472.04" cy="459.94" r="0.67" fill="#1a8a20" opacity="0.77"/><circle cx="467.92" cy="461.7" r="0.6" fill="#1a8a20" opacity="0.41"/><circle cx="466.57" cy="468.32" r="0.45" fill="#0c4a0e" opacity="0.54"/><circle cx="474.05" cy="466.28" r="0.56" fill="#0c4a0e" opacity="0.75"/><circle cx="466.61" cy="465.99" r="0.48" fill="#0f5a12" opacity="0.59"/><circle cx="470.2" cy="462.51" r="0.81" fill="#0f5a12" opacity="0.78"/><circle cx="463.36" cy="464.92" r="0.48" fill="#0c4a0e" opacity="0.82"/><circle cx="469.88" cy="458.38" r="0.31" fill="#0c4a0e" opacity="0.83"/><circle cx="465.33" cy="459.41" r="0.38" fill="#1a8a20" opacity="0.47"/><circle cx="466.47" cy="460.02" r="0.8" fill="#14701a" opacity="0.75"/><circle cx="469.6" cy="466.39" r="0.84" fill="#0c4a0e" opacity="0.4"/><circle cx="464.7" cy="466.44" r="0.59" fill="#1a8a20" opacity="0.72"/><circle cx="470.34" cy="459.59" r="0.37" fill="#14701a" opacity="0.56"/><circle cx="467.98" cy="464.83" r="0.57" fill="#1a8a20" opacity="0.8"/><circle cx="465.28" cy="460.16" r="0.63" fill="#14701a" opacity="0.72"/><circle cx="472.36" cy="463.77" r="0.61" fill="#1a8a20" opacity="0.68"/><circle cx="466.81" cy="463.18" r="0.83" fill="#0c4a0e" opacity="0.39"/><circle cx="469.92" cy="458.54" r="0.64" fill="#0c4a0e" opacity="0.69"/><circle cx="471.97" cy="459.32" r="0.57" fill="#14701a" opacity="0.73"/><circle cx="462.75" cy="466.75" r="0.78" fill="#3fe644" opacity="0.65"/><circle cx="466.71" cy="463.85" r="0.72" fill="#2fd032" opacity="0.85"/><circle cx="465.73" cy="462.27" r="0.55" fill="#25b82a" opacity="0.52"/><circle cx="465.84" cy="468.05" r="0.64" fill="#25b82a" opacity="0.73"/><circle cx="472.74" cy="462.3" r="0.52" fill="#2fd032" opacity="0.72"/><circle cx="466.29" cy="461.97" r="0.58" fill="#3fe644" opacity="0.76"/><circle cx="463.39" cy="470.06" r="0.64" fill="#25b82a" opacity="0.75"/><circle cx="468.84" cy="458.79" r="0.58" fill="#2fd032" opacity="0.5"/><circle cx="472.13" cy="463.85" r="0.86" fill="#3fe644" opacity="0.53"/><circle cx="473.18" cy="465.48" r="0.77" fill="#3fe644" opacity="0.78"/></g>
<rect x="476.8" y="457.6" width="13.1" height="13.2" fill="#040604"/>
<g filter="url(#bl)"><rect x="476.8" y="457.6" width="13.1" height="13.1" fill="#0d3a10" opacity="0.2"/><circle cx="485.6" cy="468.63" r="0.35" fill="#1a8a20" opacity="0.37"/><circle cx="484.84" cy="460.27" r="0.66" fill="#1a8a20" opacity="0.78"/><circle cx="486.62" cy="469.08" r="0.66" fill="#14701a" opacity="0.53"/><circle cx="486.76" cy="464.89" r="0.44" fill="#1a8a20" opacity="0.5"/><circle cx="477.81" cy="458.44" r="0.61" fill="#0f5a12" opacity="0.64"/><circle cx="483.32" cy="464.41" r="0.75" fill="#1a8a20" opacity="0.74"/><circle cx="484.25" cy="469.13" r="0.55" fill="#1a8a20" opacity="0.36"/><circle cx="484.47" cy="470.02" r="0.66" fill="#1a8a20" opacity="0.43"/><circle cx="483.93" cy="459.19" r="0.56" fill="#0f5a12" opacity="0.8"/><circle cx="482.48" cy="458.31" r="0.67" fill="#0f5a12" opacity="0.84"/><circle cx="480" cy="459.64" r="0.56" fill="#14701a" opacity="0.49"/><circle cx="482.76" cy="467.06" r="0.81" fill="#14701a" opacity="0.53"/><circle cx="486.08" cy="459.2" r="0.65" fill="#1a8a20" opacity="0.7"/><circle cx="485.37" cy="468.79" r="0.8" fill="#0f5a12" opacity="0.38"/><circle cx="477.54" cy="458.38" r="0.66" fill="#0f5a12" opacity="0.76"/><circle cx="482.03" cy="461.92" r="0.63" fill="#1a8a20" opacity="0.83"/><circle cx="484.65" cy="461.96" r="0.82" fill="#1a8a20" opacity="0.71"/><circle cx="485.45" cy="459.92" r="0.74" fill="#14701a" opacity="0.53"/><circle cx="484.89" cy="463.17" r="0.51" fill="#0c4a0e" opacity="0.74"/><circle cx="486.74" cy="464.95" r="0.46" fill="#0c4a0e" opacity="0.38"/><circle cx="487.75" cy="466.84" r="0.31" fill="#0c4a0e" opacity="0.43"/><circle cx="484.36" cy="469.82" r="0.44" fill="#1a8a20" opacity="0.54"/><circle cx="484.56" cy="468.86" r="0.74" fill="#0f5a12" opacity="0.49"/><circle cx="481.23" cy="461.39" r="0.39" fill="#0f5a12" opacity="0.81"/><circle cx="480.83" cy="459.87" r="0.79" fill="#14701a" opacity="0.85"/><circle cx="480.66" cy="468.33" r="0.74" fill="#1a8a20" opacity="0.69"/><circle cx="481.53" cy="459.21" r="0.6" fill="#14701a" opacity="0.75"/><circle cx="486.77" cy="466.79" r="0.84" fill="#0f5a12" opacity="0.5"/><circle cx="485.46" cy="463.74" r="0.41" fill="#0f5a12" opacity="0.48"/><circle cx="486.82" cy="463.67" r="0.35" fill="#0f5a12" opacity="0.75"/><circle cx="480.17" cy="465.1" r="0.94" fill="#3fe644" opacity="0.9"/><circle cx="481.22" cy="464.22" r="0.52" fill="#2fd032" opacity="0.6"/><circle cx="479.55" cy="466.54" r="0.62" fill="#25b82a" opacity="0.75"/><circle cx="486.68" cy="468.4" r="0.55" fill="#25b82a" opacity="0.92"/><circle cx="481.85" cy="459.46" r="0.78" fill="#2fd032" opacity="0.85"/><circle cx="481.16" cy="458.56" r="0.57" fill="#2fd032" opacity="0.77"/><circle cx="477.8" cy="469.99" r="0.92" fill="#3fe644" opacity="0.72"/><circle cx="479.94" cy="469.21" r="0.57" fill="#25b82a" opacity="0.54"/><circle cx="486.53" cy="467.94" r="0.98" fill="#2fd032" opacity="0.61"/><circle cx="481.43" cy="470.04" r="0.63" fill="#2fd032" opacity="0.51"/></g>
<rect x="491.85" y="457.6" width="13.1" height="13.2" fill="#040604"/>
<g filter="url(#bl)"><rect x="491.85" y="457.6" width="13.1" height="13.1" fill="#0d3a10" opacity="0.2"/><circle cx="499.08" cy="468.56" r="0.55" fill="#0f5a12" opacity="0.82"/><circle cx="502.72" cy="465.81" r="0.81" fill="#0f5a12" opacity="0.7"/><circle cx="495.51" cy="464.92" r="0.65" fill="#1a8a20" opacity="0.83"/><circle cx="494.62" cy="468.31" r="0.5" fill="#14701a" opacity="0.47"/><circle cx="494.5" cy="469.41" r="0.82" fill="#0f5a12" opacity="0.38"/><circle cx="502.41" cy="458.76" r="0.73" fill="#1a8a20" opacity="0.7"/><circle cx="493.11" cy="459.92" r="0.72" fill="#0c4a0e" opacity="0.82"/><circle cx="499.47" cy="463.45" r="0.66" fill="#0c4a0e" opacity="0.59"/><circle cx="495.51" cy="459.68" r="0.56" fill="#14701a" opacity="0.43"/><circle cx="502.06" cy="469.08" r="0.79" fill="#14701a" opacity="0.58"/><circle cx="501.96" cy="460.07" r="0.76" fill="#0c4a0e" opacity="0.39"/><circle cx="503.03" cy="459.86" r="0.55" fill="#1a8a20" opacity="0.4"/><circle cx="502.47" cy="465.68" r="0.55" fill="#14701a" opacity="0.52"/><circle cx="498.13" cy="465.68" r="0.38" fill="#0f5a12" opacity="0.46"/><circle cx="494.59" cy="463.57" r="0.79" fill="#14701a" opacity="0.57"/><circle cx="495.62" cy="463.1" r="0.39" fill="#0c4a0e" opacity="0.49"/><circle cx="496.43" cy="460.2" r="0.57" fill="#1a8a20" opacity="0.51"/><circle cx="493.81" cy="469.85" r="0.33" fill="#14701a" opacity="0.8"/><circle cx="499.11" cy="468.14" r="0.37" fill="#0c4a0e" opacity="0.73"/><circle cx="497.59" cy="461.31" r="0.43" fill="#1a8a20" opacity="0.47"/><circle cx="495.89" cy="468.86" r="0.33" fill="#0c4a0e" opacity="0.71"/><circle cx="494.17" cy="465.81" r="0.54" fill="#14701a" opacity="0.6"/><circle cx="497.72" cy="467.6" r="0.82" fill="#0c4a0e" opacity="0.49"/><circle cx="497.63" cy="469.05" r="0.42" fill="#14701a" opacity="0.64"/><circle cx="502.49" cy="464.41" r="0.43" fill="#0f5a12" opacity="0.44"/><circle cx="502.31" cy="468.78" r="0.7" fill="#14701a" opacity="0.73"/><circle cx="494.9" cy="465.49" r="0.69" fill="#0c4a0e" opacity="0.76"/><circle cx="494.86" cy="458.98" r="0.7" fill="#0f5a12" opacity="0.55"/><circle cx="498.62" cy="462.34" r="0.45" fill="#1a8a20" opacity="0.67"/><circle cx="493.52" cy="463.07" r="0.72" fill="#0c4a0e" opacity="0.42"/><circle cx="495.41" cy="464.9" r="0.99" fill="#3fe644" opacity="0.52"/><circle cx="496.87" cy="465.28" r="0.4" fill="#25b82a" opacity="0.73"/><circle cx="503.98" cy="459.05" r="0.61" fill="#25b82a" opacity="0.61"/><circle cx="501.72" cy="468.53" r="0.75" fill="#25b82a" opacity="0.9"/><circle cx="502.84" cy="469.55" r="0.7" fill="#3fe644" opacity="0.73"/><circle cx="502.02" cy="459.8" r="0.55" fill="#3fe644" opacity="0.54"/><circle cx="494.62" cy="459.42" r="0.55" fill="#2fd032" opacity="0.87"/><circle cx="492.68" cy="469.22" r="0.84" fill="#3fe644" opacity="0.62"/><circle cx="500.03" cy="463.72" r="0.54" fill="#25b82a" opacity="0.7"/><circle cx="502.8" cy="466.73" r="0.43" fill="#25b82a" opacity="0.56"/></g>
<rect x="506.9" y="457.6" width="13.1" height="13.2" fill="#040604"/>
<g filter="url(#bl)"><rect x="506.9" y="457.6" width="13.1" height="13.1" fill="#0d3a10" opacity="0.2"/><circle cx="514.47" cy="467.26" r="0.36" fill="#14701a" opacity="0.41"/><circle cx="513.95" cy="460.91" r="0.42" fill="#1a8a20" opacity="0.68"/><circle cx="516.38" cy="460.16" r="0.75" fill="#1a8a20" opacity="0.82"/><circle cx="515.76" cy="465.3" r="0.63" fill="#0f5a12" opacity="0.37"/><circle cx="516.75" cy="462.23" r="0.43" fill="#1a8a20" opacity="0.52"/><circle cx="517.53" cy="464.92" r="0.84" fill="#1a8a20" opacity="0.51"/><circle cx="517.59" cy="458.84" r="0.58" fill="#0c4a0e" opacity="0.83"/><circle cx="510.47" cy="463.22" r="0.65" fill="#14701a" opacity="0.53"/><circle cx="508.32" cy="463.35" r="0.58" fill="#14701a" opacity="0.36"/><circle cx="512.51" cy="462.92" r="0.85" fill="#0f5a12" opacity="0.58"/><circle cx="517.13" cy="468.72" r="0.79" fill="#0c4a0e" opacity="0.37"/><circle cx="518.42" cy="465.62" r="0.65" fill="#0f5a12" opacity="0.75"/><circle cx="514.89" cy="461.18" r="0.59" fill="#0f5a12" opacity="0.57"/><circle cx="510.92" cy="461.83" r="0.66" fill="#0c4a0e" opacity="0.41"/><circle cx="508.51" cy="465.22" r="0.81" fill="#14701a" opacity="0.57"/><circle cx="518.03" cy="469.1" r="0.62" fill="#0f5a12" opacity="0.49"/><circle cx="516.31" cy="461.62" r="0.55" fill="#14701a" opacity="0.7"/><circle cx="515.24" cy="460.59" r="0.69" fill="#0c4a0e" opacity="0.58"/><circle cx="514.79" cy="463.78" r="0.47" fill="#14701a" opacity="0.47"/><circle cx="509.75" cy="464.7" r="0.83" fill="#0c4a0e" opacity="0.55"/><circle cx="509.43" cy="469.53" r="0.48" fill="#0c4a0e" opacity="0.51"/><circle cx="510.89" cy="469.95" r="0.46" fill="#14701a" opacity="0.74"/><circle cx="514.06" cy="465.41" r="0.49" fill="#1a8a20" opacity="0.68"/><circle cx="517.43" cy="462.41" r="0.72" fill="#14701a" opacity="0.61"/><circle cx="512.46" cy="466.15" r="0.38" fill="#0c4a0e" opacity="0.45"/><circle cx="517.27" cy="464.36" r="0.71" fill="#1a8a20" opacity="0.72"/><circle cx="510.7" cy="465.7" r="0.65" fill="#1a8a20" opacity="0.7"/><circle cx="517.86" cy="458.25" r="0.72" fill="#1a8a20" opacity="0.64"/><circle cx="512.23" cy="470.02" r="0.38" fill="#0c4a0e" opacity="0.77"/><circle cx="517.89" cy="465.43" r="0.51" fill="#1a8a20" opacity="0.58"/><circle cx="510.93" cy="462.4" r="0.61" fill="#3fe644" opacity="0.74"/><circle cx="512.08" cy="462.03" r="0.87" fill="#25b82a" opacity="0.88"/><circle cx="512.03" cy="461.77" r="0.72" fill="#25b82a" opacity="0.86"/><circle cx="514.35" cy="465.12" r="0.45" fill="#25b82a" opacity="0.91"/><circle cx="519.03" cy="465.44" r="0.55" fill="#25b82a" opacity="0.65"/><circle cx="518.11" cy="469.58" r="0.42" fill="#25b82a" opacity="0.62"/><circle cx="511.07" cy="464.58" r="0.59" fill="#25b82a" opacity="0.78"/><circle cx="513.66" cy="464.36" r="0.81" fill="#25b82a" opacity="0.68"/><circle cx="507.98" cy="466.25" r="0.67" fill="#2fd032" opacity="0.5"/><circle cx="513.75" cy="459.38" r="0.62" fill="#3fe644" opacity="0.68"/></g>
<text x="353.7" y="490.3" font-size="7.4" text-anchor="end" textLength="19.6" lengthAdjust="spacingAndGlyphs" fill="#231F20" font-weight="bold" stroke="none">SS + HU</text>
<rect x="356.4" y="481" width="13.1" height="13.2" fill="#040604"/>
<rect x="371.45" y="481" width="13.1" height="13.2" fill="#040604"/>
<rect x="386.5" y="481" width="13.1" height="13.2" fill="#040604"/>
<rect x="401.55" y="481" width="13.1" height="13.2" fill="#040604"/>
<rect x="416.6" y="481" width="13.1" height="13.2" fill="#040604"/>
<rect x="431.65" y="481" width="13.1" height="13.2" fill="#040604"/>
<rect x="446.7" y="481" width="13.1" height="13.2" fill="#040604"/>
<rect x="461.75" y="481" width="13.1" height="13.2" fill="#040604"/>
<rect x="476.8" y="481" width="13.1" height="13.2" fill="#040604"/>
<rect x="491.85" y="481" width="13.1" height="13.2" fill="#040604"/>
<rect x="506.9" y="481" width="13.1" height="13.2" fill="#040604"/>
<text x="353.7" y="519.8" font-size="7.4" text-anchor="end" textLength="18.8" lengthAdjust="spacingAndGlyphs" fill="#231F20" font-weight="bold" stroke="none">SS + ET</text>
<rect x="356.4" y="510.5" width="13.1" height="13.2" fill="#040604"/>
<g filter="url(#bl)"><rect x="356.4" y="510.5" width="13.1" height="13.1" fill="#0d3a10" opacity="0.22"/><circle cx="368.05" cy="512.94" r="0.31" fill="#1a8a20" opacity="0.54"/><circle cx="362.24" cy="518.53" r="0.55" fill="#0f5a12" opacity="0.5"/><circle cx="359.03" cy="514.89" r="0.54" fill="#14701a" opacity="0.72"/><circle cx="358.32" cy="521.74" r="0.46" fill="#1a8a20" opacity="0.72"/><circle cx="364.51" cy="517.34" r="0.49" fill="#14701a" opacity="0.44"/><circle cx="361.91" cy="511.82" r="0.42" fill="#0f5a12" opacity="0.4"/><circle cx="365.23" cy="511.23" r="0.25" fill="#0f5a12" opacity="0.67"/><circle cx="367.91" cy="515.83" r="0.28" fill="#0f5a12" opacity="0.36"/><circle cx="359.34" cy="517.02" r="0.42" fill="#14701a" opacity="0.47"/><circle cx="363.84" cy="515.99" r="0.29" fill="#0f5a12" opacity="0.42"/><circle cx="357.35" cy="512.01" r="0.53" fill="#1a8a20" opacity="0.57"/><circle cx="364.29" cy="520.7" r="0.27" fill="#0c4a0e" opacity="0.36"/><circle cx="358.71" cy="513.94" r="0.33" fill="#0f5a12" opacity="0.36"/><circle cx="367.23" cy="522.38" r="0.27" fill="#1a8a20" opacity="0.44"/><circle cx="357.23" cy="513.72" r="0.42" fill="#2fd032" opacity="0.81"/><circle cx="362.23" cy="518.48" r="0.37" fill="#3fe644" opacity="0.52"/><ellipse cx="366" cy="518.5" rx="2.3" ry="2.8" fill="#3be03f" opacity="0.95"/><circle cx="358.6" cy="513.7" r="1.1" fill="#25b82a" opacity="0.8"/></g>
<rect x="371.45" y="510.5" width="13.1" height="13.2" fill="#040604"/>
<g filter="url(#bl)"><rect x="371.45" y="510.5" width="13.1" height="13.1" fill="#0d3a10" opacity="0.22"/><circle cx="382.22" cy="514.85" r="0.52" fill="#0c4a0e" opacity="0.72"/><circle cx="377.03" cy="514.1" r="0.52" fill="#0f5a12" opacity="0.79"/><circle cx="374.94" cy="515.74" r="0.47" fill="#0c4a0e" opacity="0.45"/><circle cx="376.79" cy="519.57" r="0.26" fill="#0f5a12" opacity="0.74"/><circle cx="374.11" cy="515.36" r="0.31" fill="#0c4a0e" opacity="0.79"/><circle cx="376.76" cy="515.42" r="0.35" fill="#0c4a0e" opacity="0.74"/><circle cx="376.85" cy="511.88" r="0.29" fill="#0c4a0e" opacity="0.72"/><circle cx="378.64" cy="515.71" r="0.39" fill="#1a8a20" opacity="0.51"/><circle cx="372.47" cy="519" r="0.35" fill="#14701a" opacity="0.42"/><circle cx="373.15" cy="514.31" r="0.5" fill="#1a8a20" opacity="0.41"/><circle cx="377.61" cy="520.56" r="0.32" fill="#14701a" opacity="0.52"/><circle cx="380.65" cy="515.59" r="0.54" fill="#1a8a20" opacity="0.44"/><circle cx="378.06" cy="513.8" r="0.39" fill="#0c4a0e" opacity="0.41"/><circle cx="379.14" cy="516.34" r="0.55" fill="#1a8a20" opacity="0.59"/><circle cx="379.29" cy="513.63" r="0.56" fill="#3fe644" opacity="0.55"/><circle cx="373.14" cy="521.24" r="0.52" fill="#2fd032" opacity="0.81"/><path d="M373.95 517 Q377.45 512 382.45 515" fill="none" stroke="#1f9a24" stroke-width="0.7" opacity="0.75"/></g>
<rect x="386.5" y="510.5" width="13.1" height="13.2" fill="#040604"/>
<g filter="url(#bl)"><rect x="386.5" y="510.5" width="13.1" height="13.1" fill="#0d3a10" opacity="0.22"/><circle cx="394.92" cy="517.86" r="0.34" fill="#0f5a12" opacity="0.53"/><circle cx="395.37" cy="520.34" r="0.32" fill="#0f5a12" opacity="0.43"/><circle cx="387.91" cy="521.97" r="0.49" fill="#14701a" opacity="0.69"/><circle cx="387.88" cy="514.8" r="0.32" fill="#1a8a20" opacity="0.41"/><circle cx="390.46" cy="515.9" r="0.52" fill="#14701a" opacity="0.7"/><circle cx="398.25" cy="513.2" r="0.36" fill="#0c4a0e" opacity="0.71"/><circle cx="397.77" cy="511.4" r="0.46" fill="#1a8a20" opacity="0.56"/><circle cx="391.29" cy="518.58" r="0.3" fill="#14701a" opacity="0.4"/><circle cx="395.58" cy="511.58" r="0.26" fill="#14701a" opacity="0.42"/><circle cx="396.11" cy="512.96" r="0.47" fill="#14701a" opacity="0.6"/><circle cx="393.82" cy="513.81" r="0.4" fill="#1a8a20" opacity="0.58"/><circle cx="395.07" cy="517.95" r="0.53" fill="#0c4a0e" opacity="0.4"/><circle cx="397.82" cy="521.51" r="0.43" fill="#14701a" opacity="0.66"/><circle cx="395.2" cy="511.54" r="0.35" fill="#0c4a0e" opacity="0.7"/><circle cx="396.02" cy="512.13" r="0.51" fill="#3fe644" opacity="0.66"/><circle cx="394.42" cy="513.73" r="0.46" fill="#25b82a" opacity="0.64"/><path d="M389 517 Q392.5 512 397.5 515" fill="none" stroke="#1f9a24" stroke-width="0.7" opacity="0.75"/></g>
<rect x="401.55" y="510.5" width="13.1" height="13.2" fill="#040604"/>
<g filter="url(#bl)"><rect x="401.55" y="510.5" width="13.1" height="13.1" fill="#0d3a10" opacity="0.22"/><circle cx="407.42" cy="515.15" r="0.4" fill="#1a8a20" opacity="0.66"/><circle cx="408.2" cy="519.15" r="0.31" fill="#14701a" opacity="0.65"/><circle cx="407.98" cy="513.35" r="0.54" fill="#0c4a0e" opacity="0.72"/><circle cx="404.23" cy="513.05" r="0.48" fill="#0c4a0e" opacity="0.46"/><circle cx="405.12" cy="511.81" r="0.36" fill="#14701a" opacity="0.54"/><circle cx="409.72" cy="512.73" r="0.46" fill="#1a8a20" opacity="0.57"/><circle cx="404.98" cy="513.98" r="0.4" fill="#0c4a0e" opacity="0.55"/><circle cx="410.46" cy="512.69" r="0.46" fill="#14701a" opacity="0.61"/><circle cx="406.12" cy="520.8" r="0.41" fill="#14701a" opacity="0.69"/><circle cx="410.21" cy="512.94" r="0.54" fill="#1a8a20" opacity="0.73"/><circle cx="412.04" cy="512.46" r="0.34" fill="#14701a" opacity="0.51"/><circle cx="402.67" cy="521.76" r="0.34" fill="#0c4a0e" opacity="0.4"/><circle cx="407.48" cy="512.44" r="0.35" fill="#0c4a0e" opacity="0.56"/><circle cx="405.6" cy="517.73" r="0.26" fill="#1a8a20" opacity="0.56"/><circle cx="403.15" cy="519.63" r="0.59" fill="#2fd032" opacity="0.73"/><circle cx="409.83" cy="522.49" r="0.45" fill="#25b82a" opacity="0.81"/><ellipse cx="406.15" cy="518.1" rx="2.4" ry="2.2" fill="#3be03f" opacity="0.95"/></g>
<rect x="416.6" y="510.5" width="13.1" height="13.2" fill="#040604"/>
<g filter="url(#bl)"><rect x="416.6" y="510.5" width="13.1" height="13.1" fill="#0d3a10" opacity="0.22"/><circle cx="417.3" cy="522.04" r="0.44" fill="#0c4a0e" opacity="0.63"/><circle cx="424.97" cy="512.03" r="0.47" fill="#1a8a20" opacity="0.36"/><circle cx="427.19" cy="514.63" r="0.31" fill="#14701a" opacity="0.64"/><circle cx="418.42" cy="519.65" r="0.34" fill="#1a8a20" opacity="0.63"/><circle cx="419.4" cy="520.92" r="0.35" fill="#0c4a0e" opacity="0.52"/><circle cx="427.17" cy="514.12" r="0.27" fill="#1a8a20" opacity="0.4"/><circle cx="427.97" cy="522.34" r="0.4" fill="#14701a" opacity="0.57"/><circle cx="429.05" cy="518.27" r="0.44" fill="#14701a" opacity="0.41"/><circle cx="419.15" cy="516.37" r="0.54" fill="#0f5a12" opacity="0.39"/><circle cx="427.32" cy="516.8" r="0.32" fill="#0f5a12" opacity="0.52"/><circle cx="427.21" cy="521.28" r="0.49" fill="#0c4a0e" opacity="0.54"/><circle cx="418.06" cy="511.76" r="0.46" fill="#0f5a12" opacity="0.75"/><circle cx="422.42" cy="519.03" r="0.5" fill="#14701a" opacity="0.76"/><circle cx="421.71" cy="511.15" r="0.49" fill="#14701a" opacity="0.65"/><circle cx="422.78" cy="517.56" r="0.46" fill="#3fe644" opacity="0.67"/><circle cx="428.01" cy="521.4" r="0.59" fill="#3fe644" opacity="0.88"/><path d="M419.1 517 Q422.6 512 427.6 515" fill="none" stroke="#1f9a24" stroke-width="0.7" opacity="0.75"/></g>
<rect x="431.65" y="510.5" width="13.1" height="13.2" fill="#040604"/>
<g filter="url(#bl)"><rect x="431.65" y="510.5" width="13.1" height="13.1" fill="#0d3a10" opacity="0.3"/><circle cx="433.22" cy="520.74" r="0.59" fill="#0c4a0e" opacity="0.57"/><circle cx="438.97" cy="516.11" r="0.45" fill="#14701a" opacity="0.73"/><circle cx="435.81" cy="515.19" r="0.65" fill="#14701a" opacity="0.41"/><circle cx="434.9" cy="519.9" r="0.58" fill="#0c4a0e" opacity="0.47"/><circle cx="438.85" cy="522.32" r="0.44" fill="#1a8a20" opacity="0.52"/><circle cx="436.97" cy="512.46" r="0.37" fill="#0f5a12" opacity="0.84"/><circle cx="434.88" cy="521.06" r="0.56" fill="#0c4a0e" opacity="0.49"/><circle cx="440.69" cy="513.8" r="0.48" fill="#0f5a12" opacity="0.67"/><circle cx="441" cy="521.92" r="0.53" fill="#0f5a12" opacity="0.83"/><circle cx="441.77" cy="512.7" r="0.5" fill="#0f5a12" opacity="0.65"/><circle cx="439.71" cy="522.53" r="0.51" fill="#1a8a20" opacity="0.63"/><circle cx="438.73" cy="522.62" r="0.38" fill="#0f5a12" opacity="0.64"/><circle cx="433.88" cy="520.34" r="0.32" fill="#0c4a0e" opacity="0.52"/><circle cx="432.75" cy="519.45" r="0.68" fill="#0f5a12" opacity="0.63"/><circle cx="440.67" cy="516.17" r="0.66" fill="#14701a" opacity="0.71"/><circle cx="438.95" cy="522.02" r="0.65" fill="#0c4a0e" opacity="0.48"/><circle cx="441.82" cy="519.86" r="0.3" fill="#14701a" opacity="0.53"/><circle cx="436.69" cy="519.87" r="0.68" fill="#0f5a12" opacity="0.76"/><circle cx="441.97" cy="515.31" r="0.44" fill="#0f5a12" opacity="0.56"/><circle cx="432.66" cy="521.93" r="0.4" fill="#1a8a20" opacity="0.58"/><circle cx="432.5" cy="522.87" r="0.48" fill="#1a8a20" opacity="0.8"/><circle cx="433.56" cy="520.63" r="0.37" fill="#0c4a0e" opacity="0.68"/><circle cx="442.65" cy="519.07" r="0.63" fill="#0c4a0e" opacity="0.69"/><circle cx="438.66" cy="519.31" r="0.62" fill="#0f5a12" opacity="0.87"/><circle cx="432.54" cy="522.93" r="0.49" fill="#0f5a12" opacity="0.64"/><circle cx="441.78" cy="511.52" r="0.37" fill="#1a8a20" opacity="0.81"/><circle cx="442.28" cy="522.61" r="0.58" fill="#14701a" opacity="0.62"/><circle cx="442.64" cy="518.37" r="0.33" fill="#14701a" opacity="0.56"/><circle cx="435.95" cy="512.66" r="0.58" fill="#25b82a" opacity="0.55"/><circle cx="440.9" cy="515.04" r="0.51" fill="#25b82a" opacity="0.87"/><circle cx="432.32" cy="517.99" r="0.45" fill="#25b82a" opacity="0.46"/><circle cx="442.68" cy="518.34" r="0.58" fill="#2fd032" opacity="0.78"/><circle cx="435.49" cy="514.35" r="0.53" fill="#3fe644" opacity="0.57"/></g>
<rect x="446.7" y="510.5" width="13.1" height="13.2" fill="#040604"/>
<g filter="url(#bl)"><rect x="446.7" y="510.5" width="13.1" height="13.1" fill="#0d3a10" opacity="0.3"/><circle cx="454.12" cy="518.05" r="0.36" fill="#0f5a12" opacity="0.75"/><circle cx="457.68" cy="520.31" r="0.55" fill="#0c4a0e" opacity="0.72"/><circle cx="456.72" cy="520.54" r="0.4" fill="#14701a" opacity="0.8"/><circle cx="455.41" cy="514.72" r="0.61" fill="#14701a" opacity="0.77"/><circle cx="451.47" cy="517.65" r="0.46" fill="#0c4a0e" opacity="0.43"/><circle cx="455.29" cy="521.62" r="0.61" fill="#14701a" opacity="0.65"/><circle cx="456.93" cy="522.96" r="0.36" fill="#1a8a20" opacity="0.5"/><circle cx="452.12" cy="515.81" r="0.61" fill="#0f5a12" opacity="0.86"/><circle cx="449.01" cy="519.67" r="0.4" fill="#0c4a0e" opacity="0.69"/><circle cx="448.17" cy="513.36" r="0.67" fill="#0c4a0e" opacity="0.69"/><circle cx="454.21" cy="522.85" r="0.44" fill="#1a8a20" opacity="0.79"/><circle cx="455.88" cy="522.07" r="0.64" fill="#14701a" opacity="0.56"/><circle cx="450.58" cy="514.16" r="0.31" fill="#0c4a0e" opacity="0.48"/><circle cx="450.12" cy="511.34" r="0.32" fill="#0c4a0e" opacity="0.62"/><circle cx="457.58" cy="518.81" r="0.38" fill="#14701a" opacity="0.77"/><circle cx="454.45" cy="512.04" r="0.62" fill="#0c4a0e" opacity="0.84"/><circle cx="455.86" cy="511.16" r="0.41" fill="#0f5a12" opacity="0.72"/><circle cx="454.91" cy="522.08" r="0.38" fill="#0f5a12" opacity="0.56"/><circle cx="455.02" cy="515.92" r="0.57" fill="#0f5a12" opacity="0.57"/><circle cx="457.57" cy="520.58" r="0.33" fill="#1a8a20" opacity="0.71"/><circle cx="459.06" cy="515.85" r="0.68" fill="#0f5a12" opacity="0.84"/><circle cx="458.31" cy="517.81" r="0.7" fill="#0c4a0e" opacity="0.43"/><circle cx="449.16" cy="511.32" r="0.38" fill="#0f5a12" opacity="0.66"/><circle cx="451.56" cy="515.4" r="0.44" fill="#14701a" opacity="0.74"/><circle cx="455.12" cy="518.26" r="0.43" fill="#0c4a0e" opacity="0.77"/><circle cx="456.98" cy="516.78" r="0.31" fill="#1a8a20" opacity="0.72"/><circle cx="453.96" cy="515.4" r="0.51" fill="#0c4a0e" opacity="0.54"/><circle cx="447.41" cy="516.76" r="0.56" fill="#0c4a0e" opacity="0.79"/><circle cx="449.09" cy="518.58" r="0.48" fill="#2fd032" opacity="0.89"/><circle cx="454.73" cy="512.55" r="0.54" fill="#2fd032" opacity="0.54"/><circle cx="450.38" cy="518.31" r="0.63" fill="#3fe644" opacity="0.86"/><circle cx="457.48" cy="520.37" r="0.54" fill="#3fe644" opacity="0.61"/><circle cx="450.19" cy="522.79" r="0.52" fill="#25b82a" opacity="0.74"/></g>
<rect x="461.75" y="510.5" width="13.1" height="13.2" fill="#040604"/>
<g filter="url(#bl)"><rect x="461.75" y="510.5" width="13.1" height="13.1" fill="#0d3a10" opacity="0.3"/><circle cx="473.07" cy="515.73" r="0.38" fill="#0f5a12" opacity="0.79"/><circle cx="463.63" cy="519.83" r="0.33" fill="#1a8a20" opacity="0.72"/><circle cx="470.37" cy="515.27" r="0.39" fill="#1a8a20" opacity="0.59"/><circle cx="473.59" cy="518.56" r="0.39" fill="#0c4a0e" opacity="0.53"/><circle cx="470.79" cy="513.98" r="0.44" fill="#1a8a20" opacity="0.56"/><circle cx="470" cy="514.65" r="0.7" fill="#14701a" opacity="0.51"/><circle cx="468.03" cy="522.21" r="0.61" fill="#14701a" opacity="0.88"/><circle cx="472.14" cy="514.46" r="0.43" fill="#14701a" opacity="0.64"/><circle cx="464.27" cy="519.23" r="0.54" fill="#0f5a12" opacity="0.63"/><circle cx="472.86" cy="513.6" r="0.65" fill="#1a8a20" opacity="0.58"/><circle cx="464.52" cy="521.38" r="0.7" fill="#0f5a12" opacity="0.55"/><circle cx="471.93" cy="512.91" r="0.67" fill="#0c4a0e" opacity="0.47"/><circle cx="464.14" cy="519.86" r="0.34" fill="#1a8a20" opacity="0.48"/><circle cx="463.42" cy="515.14" r="0.67" fill="#0c4a0e" opacity="0.76"/><circle cx="474.01" cy="511.49" r="0.39" fill="#0f5a12" opacity="0.8"/><circle cx="462.8" cy="517.11" r="0.39" fill="#0f5a12" opacity="0.62"/><circle cx="471.02" cy="511.67" r="0.66" fill="#0f5a12" opacity="0.43"/><circle cx="463.78" cy="516.9" r="0.35" fill="#14701a" opacity="0.61"/><circle cx="465.01" cy="517.53" r="0.55" fill="#0f5a12" opacity="0.67"/><circle cx="468.66" cy="521.09" r="0.68" fill="#14701a" opacity="0.44"/><circle cx="472.5" cy="522.67" r="0.39" fill="#14701a" opacity="0.44"/><circle cx="462.53" cy="514.3" r="0.69" fill="#0f5a12" opacity="0.5"/><circle cx="467.21" cy="517.72" r="0.45" fill="#0f5a12" opacity="0.41"/><circle cx="470.12" cy="517.57" r="0.52" fill="#0c4a0e" opacity="0.75"/><circle cx="467.1" cy="514.89" r="0.47" fill="#1a8a20" opacity="0.89"/><circle cx="471.41" cy="521.59" r="0.62" fill="#0f5a12" opacity="0.85"/><circle cx="465.2" cy="517.06" r="0.7" fill="#1a8a20" opacity="0.75"/><circle cx="474.14" cy="520.92" r="0.57" fill="#0f5a12" opacity="0.44"/><circle cx="473.16" cy="511.69" r="0.61" fill="#3fe644" opacity="0.6"/><circle cx="467.61" cy="519.05" r="0.5" fill="#25b82a" opacity="0.71"/><circle cx="471.23" cy="521.26" r="0.53" fill="#25b82a" opacity="0.72"/><circle cx="465.14" cy="518.59" r="0.63" fill="#3fe644" opacity="0.62"/><circle cx="463.11" cy="522.71" r="0.42" fill="#25b82a" opacity="0.75"/></g>
<rect x="476.8" y="510.5" width="13.1" height="13.2" fill="#040604"/>
<g filter="url(#bl)"><rect x="476.8" y="510.5" width="13.1" height="13.1" fill="#0d3a10" opacity="0.3"/><circle cx="478.26" cy="520.59" r="0.57" fill="#0c4a0e" opacity="0.86"/><circle cx="480.52" cy="521.11" r="0.64" fill="#1a8a20" opacity="0.57"/><circle cx="484.19" cy="522.99" r="0.33" fill="#0c4a0e" opacity="0.78"/><circle cx="483.63" cy="517.38" r="0.63" fill="#14701a" opacity="0.52"/><circle cx="479.21" cy="518.98" r="0.37" fill="#0f5a12" opacity="0.87"/><circle cx="481.23" cy="515.4" r="0.65" fill="#1a8a20" opacity="0.61"/><circle cx="479.23" cy="514.09" r="0.34" fill="#0c4a0e" opacity="0.58"/><circle cx="482.79" cy="512.15" r="0.46" fill="#0f5a12" opacity="0.9"/><circle cx="482.75" cy="516.79" r="0.62" fill="#14701a" opacity="0.78"/><circle cx="477.47" cy="512.65" r="0.5" fill="#0c4a0e" opacity="0.73"/><circle cx="483.63" cy="520.64" r="0.4" fill="#0f5a12" opacity="0.68"/><circle cx="484.19" cy="511.79" r="0.37" fill="#0c4a0e" opacity="0.76"/><circle cx="488.31" cy="514.14" r="0.41" fill="#1a8a20" opacity="0.62"/><circle cx="487.62" cy="513.5" r="0.47" fill="#0c4a0e" opacity="0.8"/><circle cx="488.35" cy="519.64" r="0.45" fill="#0c4a0e" opacity="0.42"/><circle cx="488.94" cy="516.23" r="0.54" fill="#14701a" opacity="0.53"/><circle cx="481.99" cy="517.99" r="0.67" fill="#0c4a0e" opacity="0.5"/><circle cx="478.15" cy="513.52" r="0.64" fill="#1a8a20" opacity="0.44"/><circle cx="481.91" cy="517.36" r="0.5" fill="#0f5a12" opacity="0.85"/><circle cx="478.68" cy="517.81" r="0.67" fill="#1a8a20" opacity="0.75"/><circle cx="482.34" cy="516.74" r="0.66" fill="#1a8a20" opacity="0.62"/><circle cx="479.01" cy="520.06" r="0.3" fill="#14701a" opacity="0.52"/><circle cx="482.18" cy="511.58" r="0.57" fill="#1a8a20" opacity="0.68"/><circle cx="486.56" cy="512.51" r="0.39" fill="#0f5a12" opacity="0.44"/><circle cx="478.61" cy="512.15" r="0.6" fill="#0f5a12" opacity="0.68"/><circle cx="487.21" cy="513.48" r="0.43" fill="#1a8a20" opacity="0.83"/><circle cx="487.44" cy="512.77" r="0.46" fill="#14701a" opacity="0.43"/><circle cx="481.21" cy="513.36" r="0.69" fill="#0c4a0e" opacity="0.49"/><circle cx="483.59" cy="512.13" r="0.47" fill="#25b82a" opacity="0.75"/><circle cx="484.01" cy="517.18" r="0.49" fill="#25b82a" opacity="0.47"/><circle cx="480.36" cy="515.62" r="0.5" fill="#25b82a" opacity="0.69"/><circle cx="479.8" cy="511.72" r="0.54" fill="#25b82a" opacity="0.62"/><circle cx="485.21" cy="519.55" r="0.36" fill="#25b82a" opacity="0.87"/></g>
<rect x="491.85" y="510.5" width="13.1" height="13.2" fill="#040604"/>
<g filter="url(#bl)"><rect x="491.85" y="510.5" width="13.1" height="13.1" fill="#0d3a10" opacity="0.3"/><circle cx="494.83" cy="522.04" r="0.52" fill="#0c4a0e" opacity="0.43"/><circle cx="492.55" cy="511.9" r="0.68" fill="#0f5a12" opacity="0.81"/><circle cx="495.71" cy="520.57" r="0.42" fill="#1a8a20" opacity="0.76"/><circle cx="497.28" cy="519.76" r="0.38" fill="#14701a" opacity="0.5"/><circle cx="497.61" cy="518.71" r="0.32" fill="#0f5a12" opacity="0.83"/><circle cx="502.14" cy="517.02" r="0.31" fill="#14701a" opacity="0.76"/><circle cx="498.38" cy="519.12" r="0.57" fill="#14701a" opacity="0.55"/><circle cx="498.81" cy="512.99" r="0.61" fill="#0f5a12" opacity="0.76"/><circle cx="497.99" cy="513.5" r="0.34" fill="#14701a" opacity="0.43"/><circle cx="500.29" cy="514.17" r="0.66" fill="#14701a" opacity="0.74"/><circle cx="502.78" cy="522.09" r="0.35" fill="#1a8a20" opacity="0.48"/><circle cx="495.94" cy="513.87" r="0.53" fill="#14701a" opacity="0.56"/><circle cx="496.13" cy="514.17" r="0.52" fill="#14701a" opacity="0.51"/><circle cx="497.11" cy="511.49" r="0.45" fill="#14701a" opacity="0.72"/><circle cx="500.24" cy="519.36" r="0.38" fill="#14701a" opacity="0.47"/><circle cx="497.57" cy="519.18" r="0.35" fill="#0f5a12" opacity="0.81"/><circle cx="500.27" cy="513.6" r="0.56" fill="#0f5a12" opacity="0.66"/><circle cx="495.91" cy="515.24" r="0.6" fill="#0f5a12" opacity="0.65"/><circle cx="494.84" cy="514.43" r="0.42" fill="#0f5a12" opacity="0.69"/><circle cx="494.85" cy="516.7" r="0.61" fill="#14701a" opacity="0.78"/><circle cx="499.34" cy="514.67" r="0.53" fill="#0f5a12" opacity="0.45"/><circle cx="496.55" cy="522.34" r="0.56" fill="#0c4a0e" opacity="0.43"/><circle cx="496.62" cy="516.82" r="0.43" fill="#0f5a12" opacity="0.58"/><circle cx="501.82" cy="514.65" r="0.33" fill="#0f5a12" opacity="0.68"/><circle cx="501.34" cy="512.44" r="0.36" fill="#0f5a12" opacity="0.6"/><circle cx="492.85" cy="517.21" r="0.34" fill="#14701a" opacity="0.72"/><circle cx="497.39" cy="521.06" r="0.33" fill="#14701a" opacity="0.76"/><circle cx="496.73" cy="518.99" r="0.34" fill="#1a8a20" opacity="0.4"/><circle cx="496.06" cy="514.21" r="0.35" fill="#2fd032" opacity="0.56"/><circle cx="498.35" cy="517.48" r="0.35" fill="#2fd032" opacity="0.66"/><circle cx="499.21" cy="511.6" r="0.42" fill="#25b82a" opacity="0.88"/><circle cx="497.25" cy="513.52" r="0.36" fill="#3fe644" opacity="0.56"/><circle cx="498.42" cy="521.7" r="0.31" fill="#25b82a" opacity="0.87"/></g>
<rect x="506.9" y="510.5" width="13.1" height="13.2" fill="#040604"/>
<g filter="url(#bl)"><rect x="506.9" y="510.5" width="13.1" height="13.1" fill="#0d3a10" opacity="0.3"/><circle cx="516.92" cy="519.45" r="0.38" fill="#0f5a12" opacity="0.77"/><circle cx="516.43" cy="512.93" r="0.41" fill="#1a8a20" opacity="0.42"/><circle cx="514.93" cy="512.4" r="0.53" fill="#14701a" opacity="0.46"/><circle cx="510.28" cy="518.18" r="0.61" fill="#0f5a12" opacity="0.76"/><circle cx="517.27" cy="511.97" r="0.43" fill="#14701a" opacity="0.45"/><circle cx="514.86" cy="519.33" r="0.63" fill="#1a8a20" opacity="0.57"/><circle cx="514.54" cy="513.28" r="0.43" fill="#1a8a20" opacity="0.87"/><circle cx="507.88" cy="520.48" r="0.36" fill="#14701a" opacity="0.66"/><circle cx="509.3" cy="515.2" r="0.36" fill="#14701a" opacity="0.5"/><circle cx="515.66" cy="519.53" r="0.33" fill="#1a8a20" opacity="0.4"/><circle cx="507.95" cy="517.35" r="0.43" fill="#0f5a12" opacity="0.43"/><circle cx="509.87" cy="518.54" r="0.64" fill="#0f5a12" opacity="0.79"/><circle cx="515.25" cy="522.66" r="0.53" fill="#1a8a20" opacity="0.8"/><circle cx="515.51" cy="519.97" r="0.35" fill="#0c4a0e" opacity="0.81"/><circle cx="518.27" cy="519.97" r="0.63" fill="#14701a" opacity="0.8"/><circle cx="512.68" cy="520.92" r="0.61" fill="#0c4a0e" opacity="0.84"/><circle cx="516.4" cy="518.16" r="0.56" fill="#0f5a12" opacity="0.72"/><circle cx="519.02" cy="520.47" r="0.4" fill="#14701a" opacity="0.82"/><circle cx="510.36" cy="518.09" r="0.52" fill="#0f5a12" opacity="0.84"/><circle cx="512.16" cy="520.43" r="0.62" fill="#0c4a0e" opacity="0.74"/><circle cx="517.33" cy="515.93" r="0.33" fill="#0c4a0e" opacity="0.73"/><circle cx="515.39" cy="521.86" r="0.47" fill="#0c4a0e" opacity="0.55"/><circle cx="513.32" cy="511.29" r="0.34" fill="#1a8a20" opacity="0.81"/><circle cx="512.39" cy="514.66" r="0.36" fill="#0f5a12" opacity="0.67"/><circle cx="511.71" cy="521.15" r="0.55" fill="#0f5a12" opacity="0.55"/><circle cx="519.31" cy="513.33" r="0.66" fill="#14701a" opacity="0.6"/><circle cx="508.94" cy="519.23" r="0.32" fill="#14701a" opacity="0.81"/><circle cx="512.14" cy="515.06" r="0.36" fill="#0c4a0e" opacity="0.48"/><circle cx="518.09" cy="518.36" r="0.7" fill="#25b82a" opacity="0.63"/><circle cx="511.29" cy="521.53" r="0.66" fill="#2fd032" opacity="0.72"/><circle cx="512.15" cy="511.21" r="0.68" fill="#2fd032" opacity="0.5"/><circle cx="512.91" cy="520.73" r="0.41" fill="#2fd032" opacity="0.61"/><circle cx="519.22" cy="519.84" r="0.64" fill="#2fd032" opacity="0.75"/></g>
<text x="353.7" y="543.3" font-size="7.4" text-anchor="end" textLength="33" lengthAdjust="spacingAndGlyphs" fill="#231F20" font-weight="bold" stroke="none">SS + ET + HU</text>
<rect x="356.4" y="534" width="13.1" height="13.2" fill="#040604"/>
<rect x="371.45" y="534" width="13.1" height="13.2" fill="#040604"/>
<rect x="386.5" y="534" width="13.1" height="13.2" fill="#040604"/>
<g filter="url(#bl)"><circle cx="398.15" cy="545.24" r="0.38" fill="#0c4a0e" opacity="0.22"/><circle cx="392.38" cy="546" r="0.32" fill="#1a8a20" opacity="0.33"/></g>
<rect x="401.55" y="534" width="13.1" height="13.2" fill="#040604"/>
<g filter="url(#bl)"><circle cx="413.31" cy="544.22" r="0.26" fill="#1a8a20" opacity="0.33"/><circle cx="406.48" cy="546.22" r="0.26" fill="#0f5a12" opacity="0.37"/></g>
<rect x="416.6" y="534" width="13.1" height="13.2" fill="#040604"/>
<g filter="url(#bl)"><circle cx="423.83" cy="539.93" r="0.44" fill="#1a8a20" opacity="0.52"/><circle cx="417.62" cy="538.47" r="0.28" fill="#0c4a0e" opacity="0.54"/><circle cx="418.92" cy="541.59" r="0.39" fill="#1a8a20" opacity="0.26"/><circle cx="419.27" cy="541.62" r="0.5" fill="#14701a" opacity="0.44"/><circle cx="420.66" cy="541.08" r="0.36" fill="#0f5a12" opacity="0.54"/><circle cx="426.78" cy="542.65" r="0.35" fill="#0c4a0e" opacity="0.54"/><circle cx="425.42" cy="537.9" r="0.29" fill="#0f5a12" opacity="0.42"/></g>
<rect x="431.65" y="534" width="13.1" height="13.2" fill="#040604"/>
<g filter="url(#bl)"><circle cx="441.69" cy="538.73" r="0.28" fill="#0f5a12" opacity="0.4"/><circle cx="434.18" cy="543.39" r="0.29" fill="#0f5a12" opacity="0.34"/><circle cx="439.24" cy="546.16" r="0.44" fill="#14701a" opacity="0.36"/><circle cx="435.49" cy="545.21" r="0.37" fill="#1a8a20" opacity="0.44"/><circle cx="437.05" cy="542.71" r="0.34" fill="#1a8a20" opacity="0.35"/><circle cx="435.43" cy="537.03" r="0.48" fill="#1a8a20" opacity="0.39"/><circle cx="439.83" cy="543.87" r="0.33" fill="#1a8a20" opacity="0.3"/></g>
<rect x="446.7" y="534" width="13.1" height="13.2" fill="#040604"/>
<g filter="url(#bl)"><circle cx="455.17" cy="544.69" r="0.35" fill="#1a8a20" opacity="0.27"/><circle cx="451.62" cy="545.52" r="0.38" fill="#0f5a12" opacity="0.34"/><circle cx="450.39" cy="543.78" r="0.26" fill="#0c4a0e" opacity="0.5"/><circle cx="451.51" cy="545.79" r="0.32" fill="#0f5a12" opacity="0.32"/><circle cx="457.72" cy="535.75" r="0.4" fill="#0f5a12" opacity="0.5"/><circle cx="458.37" cy="536.57" r="0.29" fill="#0f5a12" opacity="0.47"/><circle cx="456.52" cy="539.29" r="0.49" fill="#0c4a0e" opacity="0.47"/></g>
<rect x="461.75" y="534" width="13.1" height="13.2" fill="#040604"/>
<g filter="url(#bl)"><circle cx="467.11" cy="540.55" r="0.33" fill="#14701a" opacity="0.51"/><circle cx="468.68" cy="540.8" r="0.42" fill="#14701a" opacity="0.52"/><circle cx="464.89" cy="542.71" r="0.48" fill="#0f5a12" opacity="0.27"/><circle cx="472.49" cy="542.55" r="0.39" fill="#0c4a0e" opacity="0.37"/><circle cx="471.69" cy="542.69" r="0.46" fill="#14701a" opacity="0.29"/><circle cx="470.34" cy="543.57" r="0.38" fill="#0f5a12" opacity="0.52"/><circle cx="471.19" cy="544.37" r="0.41" fill="#14701a" opacity="0.51"/></g>
<rect x="476.8" y="534" width="13.1" height="13.2" fill="#040604"/>
<g filter="url(#bl)"><circle cx="485.1" cy="545.02" r="0.35" fill="#0f5a12" opacity="0.52"/><circle cx="486.58" cy="541.8" r="0.38" fill="#14701a" opacity="0.43"/><circle cx="481.08" cy="538.88" r="0.39" fill="#0f5a12" opacity="0.52"/><circle cx="481.68" cy="542.92" r="0.27" fill="#0c4a0e" opacity="0.5"/><circle cx="480" cy="540.05" r="0.44" fill="#0f5a12" opacity="0.38"/><circle cx="489.03" cy="541.62" r="0.4" fill="#1a8a20" opacity="0.26"/><circle cx="478.72" cy="537.27" r="0.41" fill="#0c4a0e" opacity="0.35"/></g>
<rect x="491.85" y="534" width="13.1" height="13.2" fill="#040604"/>
<g filter="url(#bl)"><circle cx="498.77" cy="537.34" r="0.39" fill="#0c4a0e" opacity="0.5"/><circle cx="502.44" cy="544.22" r="0.38" fill="#14701a" opacity="0.26"/><circle cx="492.79" cy="540.61" r="0.36" fill="#0c4a0e" opacity="0.27"/><circle cx="501.07" cy="541.56" r="0.35" fill="#1a8a20" opacity="0.4"/><circle cx="495.14" cy="544.93" r="0.5" fill="#0c4a0e" opacity="0.49"/><circle cx="500.28" cy="537.6" r="0.41" fill="#1a8a20" opacity="0.42"/><circle cx="497.85" cy="542.72" r="0.43" fill="#0c4a0e" opacity="0.39"/></g>
<rect x="506.9" y="534" width="13.1" height="13.2" fill="#040604"/>
<g filter="url(#bl)"><circle cx="514.83" cy="535.93" r="0.29" fill="#0f5a12" opacity="0.48"/><circle cx="516.26" cy="540.74" r="0.36" fill="#14701a" opacity="0.31"/><circle cx="516.7" cy="536.99" r="0.44" fill="#0c4a0e" opacity="0.5"/><circle cx="516.4" cy="545.88" r="0.48" fill="#0f5a12" opacity="0.47"/><circle cx="508.25" cy="537.05" r="0.25" fill="#0c4a0e" opacity="0.51"/><circle cx="514.14" cy="542.07" r="0.39" fill="#0c4a0e" opacity="0.34"/><circle cx="511.14" cy="535.13" r="0.29" fill="#0f5a12" opacity="0.36"/></g>
</svg>
</body></html>
